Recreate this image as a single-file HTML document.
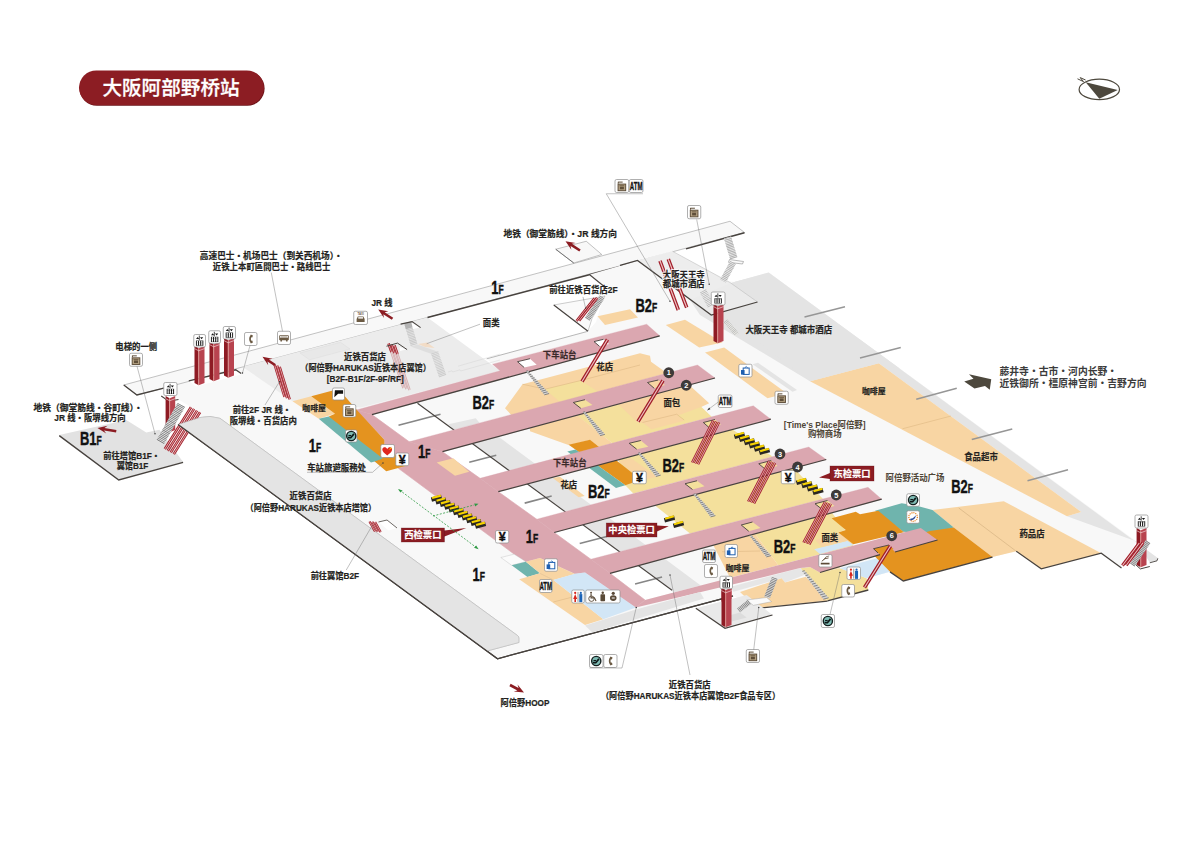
<!DOCTYPE html>
<html lang="zh"><head><meta charset="utf-8"><title>大阪阿部野桥站</title>
<style>html,body{margin:0;padding:0;background:#fff;font-family:"Liberation Sans",sans-serif;}svg{display:block}.lb{font-family:"Liberation Sans","Noto Sans CJK SC",sans-serif;font-weight:bold}</style></head>
<body><svg width="1200" height="848" viewBox="0 0 1200 848">
<rect x="79.6" y="71.2" width="185" height="34.5" rx="17.25" fill="#6a1217"/>
<rect x="79" y="70.5" width="185" height="34.5" rx="17.25" fill="#8c1d23"/>
<text x="102.40" y="95.20" font-family="Liberation Sans, Noto Sans CJK SC, sans-serif" font-weight="500" font-size="19.6" fill="#fff" stroke="#fff" stroke-width="0.27" textLength="137.2" lengthAdjust="spacingAndGlyphs">大阪阿部野桥站</text>
<ellipse cx="1099.3" cy="89.4" rx="20.2" ry="10.2" fill="#fff" stroke="#4d483d" stroke-width="1.2"/>
<polygon points="1085.70,82.30 1117.70,90.00 1099.30,98.70" fill="#4d483d" />
<path d="M1077.5 78.8 L1083.5 81.6 L1080.2 77.6 L1085.6 80" fill="none" stroke="#4d483d" stroke-width="1" />
<polygon points="163.75,388.10 242.50,366.75 500.00,371.00 720.00,560.00 805.00,576.25 497.50,658.75 178.10,424.40 200.00,417.50 201.00,413.00 178.50,399.50 171.00,394.50" fill="#f8f8f8" />
<polygon points="123.75,385.00 730.00,221.25 744.50,232.50 163.75,388.10 136.90,395.00" fill="#f8f8f8" stroke="#9a9a9a" stroke-width="0.6" stroke-linejoin="round" />
<polygon points="555.75,249.25 586.25,241.25 601.75,254.50 573.75,263.00" fill="#f8f8f8" stroke="#9a9a9a" stroke-width="0.6" stroke-linejoin="round" />
<polyline points="555.75,249.25 573.75,263.00" fill="none" stroke="#6a6a6a" stroke-width="0.9" />
<polygon points="242.50,366.75 427.50,317.50 500.00,370.80 361.00,407.50 292.50,401.25" fill="#ececec" />
<polygon points="300.00,353.00 340.50,342.30 350.00,349.00 309.50,359.80" fill="#e8e8e8" stroke="#d9d9d9" stroke-width="0.4" stroke-linejoin="round" />
<path d="M178.1 424.4 L200 417.5 Q210 415 220 418.3 L517.5 635.5 Q518.9 636.5 518.9 638 L518.9 642.5 L487.5 650.9 Z" fill="#e4e4e4" />
<path d="M178.1 424.4 L200 417.5 Q210 415 220 418.3 L517.5 635.5 Q518.9 636.5 518.9 638 L518.9 642.5 L487.5 650.9" fill="none" stroke="#b3b3b3" stroke-width="0.5" />
<polyline points="178.10,424.40 497.50,658.75 733.00,595.80" fill="none" stroke="#47423e" stroke-width="1.25" />
<polyline points="123.75,385.00 136.90,395.00 163.75,388.10" fill="none" stroke="#47423e" stroke-width="1.3" />
<polyline points="427.50,317.50 637.50,262.02" fill="none" stroke="#47423e" stroke-width="1.5" />
<polyline points="686.00,248.90 744.50,232.80" fill="none" stroke="#47423e" stroke-width="1.5" />
<polygon points="59.25,435.00 126.25,420.00 146.25,432.50 159.40,429.75 183.10,461.90 118.75,479.50" fill="#e2e2e2" />
<polyline points="59.25,435.60 118.75,480.00 183.10,462.30" fill="none" stroke="#47423e" stroke-width="1.4" />
<polygon points="590.00,274.50 637.50,260.80 671.70,250.80 720.00,280.80 735.00,281.70 768.75,272.50 1136.60,541.50 1121.50,567.90 1101.25,553.25 1041.25,568.75 1016.25,551.25 992.50,557.00 903.30,580.80 890.00,571.70 866.70,578.30 868.30,590.00 827.50,600.80 760.00,607.00 733.00,595.80 640.00,590.00 417.50,403.30 483.30,385.00 500.00,371.00 486.70,358.80 588.00,331.25 596.00,322.00 606.00,288.00" fill="#f8f8f8" />
<polygon points="768.75,272.50 1157.80,558.00 1157.00,560.50 1149.80,562.50 1136.60,541.50 1067.00,516.25 1081.25,512.00 878.75,363.25 810.00,381.25 700.00,315.00 690.00,300.00 732.50,282.50" fill="#e4e4e4" />
<polyline points="1157.80,558.30 1157.00,560.80 1149.80,562.80" fill="none" stroke="#47423e" stroke-width="0.9" />
<polygon points="810.00,381.25 878.75,363.25 1081.25,512.00 1067.00,516.25" fill="#f8d5a3" />
<polyline points="902.50,428.75 951.00,416.00" fill="none" stroke="#d9b27c" stroke-width="0.5" />
<polygon points="932.50,510.00 1003.75,501.25 1101.25,553.25 1041.25,568.75 1016.25,551.25 992.50,557.00 953.00,527.00" fill="#f8d5a3" />
<polyline points="958.75,508.00 1016.25,551.25" fill="none" stroke="#c9a676" stroke-width="0.5" />
<polyline points="1016.25,551.25 1041.25,568.75 1101.25,553.25 1121.50,567.90" fill="none" stroke="#47423e" stroke-width="1.2" />
<polygon points="371.90,414.60 416.32,402.44 453.67,429.87 409.20,441.70" fill="#ffffff" />
<polygon points="448.30,424.20 475.80,418.30 479.67,422.95 453.67,429.87" fill="#e4e4e4" />
<polyline points="398.50,425.30 440.50,414.30" fill="none" stroke="#868686" stroke-width="1.6" />
<polygon points="442.50,451.70 472.38,443.62 509.09,470.58 480.00,478.30" fill="#ffffff" />
<polygon points="472.38,443.62 498.38,436.59 535.09,463.69 509.09,470.58" fill="#e4e4e4" />
<polyline points="469.24,462.35 496.24,455.28" fill="none" stroke="#868686" stroke-width="1.6" />
<polygon points="498.30,491.70 527.33,483.98 565.04,511.68 536.70,519.20" fill="#ffffff" />
<polygon points="527.33,483.98 553.33,477.06 591.04,504.78 565.04,511.68" fill="#e4e4e4" />
<polyline points="524.68,503.13 551.68,496.06" fill="none" stroke="#868686" stroke-width="1.6" />
<polygon points="554.20,532.50 582.90,524.80 619.57,551.74 590.80,559.20" fill="#ffffff" />
<polygon points="582.90,524.80 608.90,517.82 645.57,544.99 619.57,551.74" fill="#e4e4e4" />
<polyline points="579.73,543.51 606.73,536.43" fill="none" stroke="#868686" stroke-width="1.6" />
<polygon points="610.00,573.30 638.39,565.56 674.71,592.24 645.00,600.00" fill="#ffffff" />
<polygon points="638.39,565.56 664.39,558.47 700.71,585.46 674.71,592.24" fill="#e4e4e4" />
<polyline points="635.05,584.10 662.05,577.03" fill="none" stroke="#868686" stroke-width="1.6" />
<polyline points="417.50,403.30 672.00,590.25" fill="none" stroke="#47423e" stroke-width="1.1" />
<polygon points="505.00,408.30 522.50,384.20 640.00,353.30 650.00,355.80 651.00,361.70 664.00,371.00 664.00,373.91 511.70,415.43" fill="#f8d5a3" />
<polygon points="545.00,389.20 580.80,380.50 600.00,393.00 560.00,402.00" fill="#f4e09c" />
<polyline points="522.50,384.20 545.00,389.20 580.80,380.50 640.00,365.00" fill="none" stroke="#d8b37e" stroke-width="0.5" />
<polygon points="576.70,415.40 689.20,384.98 701.70,407.20 711.70,416.84 612.50,443.15" fill="#f4e09c" />
<polygon points="530.00,428.17 576.67,415.00 612.50,443.17 599.17,446.83 590.00,440.00 569.17,445.33 530.00,431.17" fill="#f8d5a3" />
<polygon points="618.30,404.15 689.20,384.98 709.20,403.30 701.70,406.70 678.00,415.50 684.20,420.80 651.70,429.20 643.30,423.30 636.70,421.70" fill="#f8d5a3" />
<polyline points="642.50,422.50 676.70,414.20 684.20,420.00" fill="none" stroke="#d8b37e" stroke-width="0.5" />
<polygon points="618.70,459.67 732.50,429.39 772.50,456.62 633.30,493.56 625.30,485.30" fill="#f4e09c" />
<polygon points="618.70,461.30 630.70,458.00 657.30,476.70 646.70,479.30 633.00,473.50" fill="#f8d5a3" />
<polygon points="568.70,444.70 590.00,439.70 633.00,473.50 632.50,482.70 625.30,485.30" fill="#e4931f" />
<polygon points="567.30,451.50 575.50,449.60 625.30,485.30 616.00,488.00" fill="#6fb4ad" />
<polygon points="552.70,478.00 560.00,476.70 584.70,496.00 578.70,497.30" fill="#f8d5a3" />
<polygon points="655.00,505.45 794.00,468.15 823.00,498.97 690.00,533.47" fill="#f4e09c" />
<polygon points="755.00,533.75 832.00,512.75 845.00,530.00 838.00,532.50 853.00,544.00 853.00,545.70 778.30,565.20" fill="#f4e09c" />
<polygon points="713.30,545.13 755.00,533.75 778.30,565.20 730.00,577.81" fill="#f8d5a3" />
<polyline points="722.00,551.75 760.00,551.00" fill="none" stroke="#d8b37e" stroke-width="0.5" />
<polygon points="730.80,586.70 805.00,566.70 808.70,573.30 785.00,582.50 781.70,578.30 733.30,591.70" fill="#e6e6e6" />
<polygon points="740.00,592.00 781.70,578.30 785.00,582.50 805.80,576.70 827.50,600.80 757.00,608.00" fill="#f8d5a3" />
<polyline points="757.00,608.30 827.50,601.10" fill="none" stroke="#47423e" stroke-width="1.2" />
<polygon points="800.80,568.30 810.00,567.00 820.00,572.50 840.00,568.30 866.70,578.30 868.30,590.00 827.50,600.80" fill="#f4e09c" />
<polygon points="810.00,566.50 832.50,560.80 840.00,568.00 820.00,572.50" fill="#f8d5a3" />
<polygon points="814.20,549.20 847.50,540.80 853.30,545.00 820.00,554.00" fill="#d2e6f6" />
<polygon points="840.00,568.30 876.70,558.30 890.00,571.70 866.70,578.30" fill="#d2e6f6" />
<polygon points="815.00,540.00 845.80,530.00 838.30,532.50 853.30,544.20 847.50,540.80 822.00,547.00" fill="#f8d5a3" />
<polygon points="875.00,510.80 901.70,503.30 916.70,505.80 932.50,510.00 953.75,527.50 930.80,533.70 903.30,531.70" fill="#6fb4ad" />
<polygon points="831.70,518.30 855.80,511.70 860.00,514.20 878.30,510.80 903.30,531.70 905.00,532.12 853.30,544.20 838.30,532.50 845.80,530.00" fill="#e4931f" />
<polygon points="868.00,548.00 930.00,531.00 953.75,527.50 992.50,557.00 903.30,580.80 890.00,571.70 876.70,558.30" fill="#e4931f" />
<polyline points="827.50,600.80 868.30,590.00" fill="none" stroke="#47423e" stroke-width="1.3" />
<polyline points="890.00,571.90 903.30,581.00 992.50,557.20" fill="none" stroke="#47423e" stroke-width="1.3" />
<polygon points="356.25,410.00 371.90,414.60 409.20,441.70 442.50,451.70 480.00,478.30 498.30,491.70 536.70,519.20 554.20,532.50 590.80,559.20 610.00,573.30 645.00,600.00 645.00,600.00 635.80,607.50 585.00,572.50 575.00,573.70 540.00,558.00 525.80,561.70 514.20,554.20 398.30,468.30 407.50,465.50 385.00,445.80 384.20,439.20" fill="#dba7b0" stroke="#dba7b0" stroke-width="0.6" stroke-linejoin="round" />
<polygon points="356.25,410.00 500.00,370.80 492.50,364.20 646.70,324.20 659.70,335.80 371.90,414.60" fill="#dba7b0" stroke="#dba7b0" stroke-width="0.3" stroke-linejoin="round" />
<polygon points="409.20,441.70 697.50,365.00 715.00,378.00 442.50,451.70" fill="#dba7b0" stroke="#dba7b0" stroke-width="0.3" stroke-linejoin="round" />
<polygon points="480.00,478.30 753.30,405.80 770.80,419.20 498.30,491.70" fill="#dba7b0" stroke="#dba7b0" stroke-width="0.3" stroke-linejoin="round" />
<polygon points="536.70,519.20 808.75,447.00 826.25,459.50 554.20,532.50" fill="#dba7b0" stroke="#dba7b0" stroke-width="0.3" stroke-linejoin="round" />
<polygon points="590.80,559.20 868.00,487.30 881.70,499.20 610.00,573.30" fill="#dba7b0" stroke="#dba7b0" stroke-width="0.3" stroke-linejoin="round" />
<polygon points="645.00,600.00 920.80,528.00 937.50,540.00 895.00,552.00 891.20,548.00 874.20,548.70 880.00,554.70 820.00,572.50 810.00,567.00 800.00,568.00 770.00,575.50 635.80,607.50" fill="#dba7b0" />
<polyline points="659.70,335.80 371.90,414.60" fill="none" stroke="#47423e" stroke-width="1.3" />
<polyline points="715.00,378.00 442.50,451.70" fill="none" stroke="#47423e" stroke-width="1.2" />
<polyline points="770.80,419.20 498.30,491.70" fill="none" stroke="#47423e" stroke-width="1.2" />
<polyline points="826.25,459.50 554.20,532.50" fill="none" stroke="#47423e" stroke-width="1.2" />
<polyline points="881.70,499.20 610.00,573.30" fill="none" stroke="#47423e" stroke-width="1.2" />
<polyline points="937.50,540.00 895.00,552.00" fill="none" stroke="#47423e" stroke-width="1.2" />
<polyline points="880.00,554.70 820.00,572.50" fill="none" stroke="#47423e" stroke-width="1.2" />
<polygon points="292.50,401.25 311.25,396.25 335.00,413.75 318.75,418.75" fill="#f8d5a3" />
<polygon points="311.25,396.25 336.50,389.50 345.00,396.50 356.40,409.60 384.30,439.80 384.50,445.50 407.50,465.50 386.25,471.25 374.70,461.60 328.75,416.50 335.00,413.75" fill="#e4931f" />
<polygon points="318.75,418.75 328.75,416.50 382.80,458.50 374.70,461.60 371.00,462.60" fill="#6fb4ad" />
<polygon points="436.70,462.50 453.30,458.30 469.20,471.70 455.00,475.80" fill="#f8d5a3" />
<polygon points="735.00,281.70 768.30,273.30 900.00,368.75 878.75,363.25 810.00,381.25 723.30,315.80 700.00,298.00" fill="#e4e4e4" />
<polygon points="637.50,260.40 672.50,251.25 730.00,282.50 757.50,302.00 711.25,315.00" fill="#ebebeb" fill-opacity="0.9"/>
<polyline points="672.50,251.25 730.00,282.50 757.50,302.00" fill="none" stroke="#b4b4b4" stroke-width="0.5" />
<polyline points="620.00,265.30 637.50,260.40 711.25,315.00 757.50,302.00" fill="none" stroke="#47423e" stroke-width="1.2" />
<polyline points="804.50,317.00 845.00,306.75" fill="none" stroke="#969696" stroke-width="1.4" />
<polyline points="860.00,358.00 900.75,347.50" fill="none" stroke="#969696" stroke-width="1.4" />
<polyline points="916.25,399.25 956.75,388.25" fill="none" stroke="#969696" stroke-width="1.4" />
<polyline points="971.75,439.50 1012.25,429.00" fill="none" stroke="#969696" stroke-width="1.4" />
<polyline points="1027.50,480.75 1068.00,469.75" fill="none" stroke="#969696" stroke-width="1.4" />
<polygon points="665.80,325.00 685.00,319.70 722.50,342.50 699.20,347.50" fill="#f8d5a3" />
<polygon points="705.00,352.50 724.20,347.50 786.70,393.30 767.50,398.30" fill="#f8d5a3" />
<polygon points="752.50,364.20 758.00,362.80 797.00,390.00 792.50,391.70" fill="#e4e4e4" />
<polygon points="597.50,316.25 630.00,309.25 638.00,317.50 605.00,325.00" fill="#f8d5a3" />
<polygon points="553.75,305.00 605.00,296.00 592.00,318.50 588.00,331.25" fill="#fafafa" stroke="#9a9a9a" stroke-width="0.5" stroke-linejoin="round" />
<polyline points="553.75,305.00 588.00,331.25" fill="none" stroke="#47423e" stroke-width="1.1" />
<polyline points="588.00,331.25 486.70,358.80" fill="none" stroke="#9a9a9a" stroke-width="0.7" />
<polyline points="590.00,275.00 606.00,288.00" fill="none" stroke="#47423e" stroke-width="1.1" />
<polygon points="517.50,361.70 530.00,358.70 536.70,364.70 524.20,367.50" fill="#ffffff" />
<polyline points="517.50,361.70 530.00,358.70" fill="none" stroke="#47423e" stroke-width="0.9" />
<polyline points="517.50,361.70 524.20,367.50" fill="none" stroke="#47423e" stroke-width="0.9" />
<polygon points="573.30,402.50 585.00,399.70 592.50,405.00 580.80,408.30" fill="#f4e09c" />
<polyline points="573.30,402.50 585.00,399.70" fill="none" stroke="#47423e" stroke-width="0.9" />
<polyline points="573.30,402.50 580.80,408.30" fill="none" stroke="#47423e" stroke-width="0.9" />
<polygon points="629.20,443.30 640.80,440.50 648.30,446.70 636.70,449.20" fill="#f4e09c" />
<polyline points="629.20,443.30 640.80,440.50" fill="none" stroke="#47423e" stroke-width="0.9" />
<polyline points="629.20,443.30 636.70,449.20" fill="none" stroke="#47423e" stroke-width="0.9" />
<polygon points="685.00,483.75 697.00,480.75 704.50,486.25 692.50,489.50" fill="#f4e09c" />
<polyline points="685.00,483.75 697.00,480.75" fill="none" stroke="#47423e" stroke-width="0.9" />
<polyline points="685.00,483.75 692.50,489.50" fill="none" stroke="#47423e" stroke-width="0.9" />
<polygon points="741.25,525.00 752.50,522.00 760.50,528.00 748.75,531.25" fill="#f4e09c" />
<polyline points="741.25,525.00 752.50,522.00" fill="none" stroke="#47423e" stroke-width="0.9" />
<polyline points="741.25,525.00 748.75,531.25" fill="none" stroke="#47423e" stroke-width="0.9" />
<polygon points="594.00,341.60 603.50,339.30 609.00,344.00 599.50,346.30" fill="#ffffff" />
<polyline points="594.00,341.60 603.50,339.30" fill="none" stroke="#47423e" stroke-width="0.9" />
<polyline points="594.00,341.60 599.50,346.30" fill="none" stroke="#47423e" stroke-width="0.9" />
<polygon points="647.50,382.50 658.30,380.00 665.00,385.00 654.20,388.30" fill="#f8d5a3" />
<polyline points="647.50,382.50 658.30,380.00" fill="none" stroke="#47423e" stroke-width="0.9" />
<polyline points="647.50,382.50 654.20,388.30" fill="none" stroke="#47423e" stroke-width="0.9" />
<polygon points="703.30,422.50 715.00,419.50 721.00,424.50 709.00,427.50" fill="#f4e09c" />
<polyline points="703.30,422.50 715.00,419.50" fill="none" stroke="#47423e" stroke-width="0.9" />
<polyline points="703.30,422.50 709.00,427.50" fill="none" stroke="#47423e" stroke-width="0.9" />
<polygon points="758.75,463.75 771.25,460.50 777.50,466.00 765.00,469.00" fill="#f4e09c" />
<polyline points="758.75,463.75 771.25,460.50" fill="none" stroke="#47423e" stroke-width="0.9" />
<polyline points="758.75,463.75 765.00,469.00" fill="none" stroke="#47423e" stroke-width="0.9" />
<polygon points="815.00,503.75 827.50,500.50 834.50,506.00 822.00,509.30" fill="#f4e09c" />
<polyline points="815.00,503.75 827.50,500.50" fill="none" stroke="#47423e" stroke-width="0.9" />
<polyline points="815.00,503.75 822.00,509.30" fill="none" stroke="#47423e" stroke-width="0.9" />
<polygon points="873.50,548.70 889.00,545.00 893.50,549.00 878.00,553.00" fill="#e4931f" />
<polyline points="873.50,548.70 889.00,545.00" fill="none" stroke="#47423e" stroke-width="0.9" />
<polyline points="873.50,548.70 878.00,553.00" fill="none" stroke="#47423e" stroke-width="0.9" />
<polygon points="802.29,571.32 804.71,570.68 828.66,597.79 823.34,599.21" fill="#d4d4d4" />
<path d="M802.29 571.32 L804.71 570.68 M803.91 573.47 L806.55 572.76 M805.53 575.61 L808.39 574.85 M807.15 577.76 L810.23 576.93 M808.77 579.90 L812.08 579.02 M810.39 582.05 L813.92 581.10 M812.01 584.20 L815.76 583.19 M813.63 586.34 L817.60 585.27 M815.25 588.49 L819.45 587.36 M816.87 590.63 L821.29 589.45 M818.49 592.78 L823.13 591.53 M820.10 594.92 L824.97 593.62 M821.72 597.07 L826.81 595.70 M823.34 599.21 L828.66 597.79" fill="none" stroke="#6f6f6f" stroke-width="0.8" />
<polygon points="525.94,371.28 528.06,370.72 549.12,393.55 544.29,394.85" fill="#d4d4d4" />
<path d="M525.94 371.28 L528.06 370.72 M527.35 373.10 L529.68 372.47 M528.76 374.91 L531.30 374.23 M530.17 376.72 L532.92 375.99 M531.58 378.53 L534.54 377.74 M532.99 380.35 L536.16 379.50 M534.41 382.16 L537.78 381.26 M535.82 383.97 L539.40 383.01 M537.23 385.78 L541.02 384.77 M538.64 387.60 L542.64 386.53 M540.05 389.41 L544.26 388.28 M541.46 391.22 L545.88 390.04 M542.87 393.03 L547.50 391.80 M544.29 394.85 L549.12 393.55" fill="none" stroke="#6f6f6f" stroke-width="0.8" />
<polygon points="582.94,412.28 585.06,411.72 604.91,434.35 600.09,435.65" fill="#d4d4d4" />
<path d="M582.94 412.28 L585.06 411.72 M584.26 414.08 L586.59 413.46 M585.58 415.88 L588.12 415.20 M586.89 417.68 L589.64 416.94 M588.21 419.47 L591.17 418.68 M589.53 421.27 L592.70 420.42 M590.85 423.07 L594.23 422.16 M592.17 424.86 L595.75 423.90 M593.49 426.66 L597.28 425.65 M594.81 428.46 L598.81 427.39 M596.13 430.26 L600.33 429.13 M597.45 432.05 L601.86 430.87 M598.77 433.85 L603.39 432.61 M600.09 435.65 L604.91 434.35" fill="none" stroke="#6f6f6f" stroke-width="0.8" />
<polygon points="637.94,453.28 640.06,452.72 660.71,475.15 655.88,476.45" fill="#d4d4d4" />
<path d="M637.94 453.28 L640.06 452.72 M639.32 455.07 L641.65 454.44 M640.70 456.85 L643.24 456.17 M642.08 458.63 L644.83 457.89 M643.46 460.41 L646.42 459.62 M644.84 462.19 L648.01 461.34 M646.22 463.98 L649.59 463.07 M647.60 465.76 L651.18 464.80 M648.98 467.54 L652.77 466.52 M650.36 469.32 L654.36 468.25 M651.74 471.10 L655.95 469.97 M653.12 472.88 L657.54 471.70 M654.50 474.67 L659.13 473.43 M655.88 476.45 L660.71 475.15" fill="none" stroke="#6f6f6f" stroke-width="0.8" />
<polygon points="693.44,494.28 695.56,493.72 715.41,515.60 710.59,516.90" fill="#d4d4d4" />
<path d="M693.44 494.28 L695.56 493.72 M694.76 496.02 L697.09 495.40 M696.08 497.76 L698.62 497.08 M697.39 499.50 L700.14 498.77 M698.71 501.24 L701.67 500.45 M700.03 502.98 L703.20 502.13 M701.35 504.72 L704.73 503.82 M702.67 506.46 L706.25 505.50 M703.99 508.20 L707.78 507.18 M705.31 509.94 L709.31 508.87 M706.63 511.68 L710.83 510.55 M707.95 513.42 L712.36 512.24 M709.27 515.16 L713.89 513.92 M710.59 516.90 L715.41 515.60" fill="none" stroke="#6f6f6f" stroke-width="0.8" />
<polygon points="749.44,535.78 751.56,535.22 771.16,555.60 766.34,556.90" fill="#d4d4d4" />
<path d="M749.44 535.78 L751.56 535.22 M750.74 537.41 L753.07 536.78 M752.04 539.03 L754.58 538.35 M753.34 540.66 L756.09 539.92 M754.64 542.28 L757.59 541.49 M755.94 543.91 L759.10 543.06 M757.24 545.53 L760.61 544.62 M758.54 547.15 L762.12 546.19 M759.84 548.78 L763.63 547.76 M761.14 550.40 L765.13 549.33 M762.44 552.03 L766.64 550.90 M763.74 553.65 L768.15 552.47 M765.04 555.27 L769.66 554.03 M766.34 556.90 L771.16 555.60" fill="none" stroke="#6f6f6f" stroke-width="0.8" />
<polyline points="607.50,339.50 582.00,381.50" fill="none" stroke="#a11d29" stroke-width="3.6" stroke-linecap="butt"/>
<polyline points="607.50,339.50 582.00,381.50" fill="none" stroke="#eec3c3" stroke-width="1.1520000000000001" />
<polyline points="663.00,380.50 638.00,421.50" fill="none" stroke="#a11d29" stroke-width="3.6" stroke-linecap="butt"/>
<polyline points="663.00,380.50 638.00,421.50" fill="none" stroke="#eec3c3" stroke-width="1.1520000000000001" />
<polyline points="713.20,420.50 692.20,462.50" fill="none" stroke="#a11d29" stroke-width="2.5" stroke-linecap="butt"/>
<polyline points="713.20,420.50 692.20,462.50" fill="none" stroke="#eec3c3" stroke-width="0.8" />
<polyline points="716.10,421.40 695.10,463.40" fill="none" stroke="#a11d29" stroke-width="2.5" stroke-linecap="butt"/>
<polyline points="716.10,421.40 695.10,463.40" fill="none" stroke="#eec3c3" stroke-width="0.8" />
<polyline points="719.00,422.30 698.00,464.30" fill="none" stroke="#a11d29" stroke-width="2.5" stroke-linecap="butt"/>
<polyline points="719.00,422.30 698.00,464.30" fill="none" stroke="#eec3c3" stroke-width="0.8" />
<polyline points="769.20,461.00 748.20,501.50" fill="none" stroke="#a11d29" stroke-width="2.5" stroke-linecap="butt"/>
<polyline points="769.20,461.00 748.20,501.50" fill="none" stroke="#eec3c3" stroke-width="0.8" />
<polyline points="772.10,461.90 751.10,502.40" fill="none" stroke="#a11d29" stroke-width="2.5" stroke-linecap="butt"/>
<polyline points="772.10,461.90 751.10,502.40" fill="none" stroke="#eec3c3" stroke-width="0.8" />
<polyline points="775.00,462.80 754.00,503.30" fill="none" stroke="#a11d29" stroke-width="2.5" stroke-linecap="butt"/>
<polyline points="775.00,462.80 754.00,503.30" fill="none" stroke="#eec3c3" stroke-width="0.8" />
<polyline points="825.00,502.00 803.50,542.50" fill="none" stroke="#a11d29" stroke-width="2.5" stroke-linecap="butt"/>
<polyline points="825.00,502.00 803.50,542.50" fill="none" stroke="#eec3c3" stroke-width="0.8" />
<polyline points="827.90,502.90 806.40,543.40" fill="none" stroke="#a11d29" stroke-width="2.5" stroke-linecap="butt"/>
<polyline points="827.90,502.90 806.40,543.40" fill="none" stroke="#eec3c3" stroke-width="0.8" />
<polyline points="830.80,503.80 809.30,544.30" fill="none" stroke="#a11d29" stroke-width="2.5" stroke-linecap="butt"/>
<polyline points="830.80,503.80 809.30,544.30" fill="none" stroke="#eec3c3" stroke-width="0.8" />
<polyline points="890.50,546.00 864.50,587.50" fill="none" stroke="#a11d29" stroke-width="3.6" stroke-linecap="butt"/>
<polyline points="890.50,546.00 864.50,587.50" fill="none" stroke="#eec3c3" stroke-width="1.1520000000000001" />
<polyline points="660.00,260.80 678.30,310.00" fill="none" stroke="#a11d29" stroke-width="3.6" stroke-linecap="butt"/>
<polyline points="660.00,260.80 678.30,310.00" fill="none" stroke="#eec3c3" stroke-width="1.1520000000000001" />
<polyline points="668.30,259.20 686.70,307.50" fill="none" stroke="#a11d29" stroke-width="3.6" stroke-linecap="butt"/>
<polyline points="668.30,259.20 686.70,307.50" fill="none" stroke="#eec3c3" stroke-width="1.1520000000000001" />
<polyline points="602.00,297.00 587.20,319.50" fill="none" stroke="#dcdcdc" stroke-width="5.6" />
<polyline points="602.00,297.00 587.20,319.50" fill="none" stroke="#7c7c7c" stroke-width="5.6" stroke-dasharray="0.7 0.9"/>
<polyline points="594.50,298.30 576.50,321.00" fill="none" stroke="#a11d29" stroke-width="2.6" stroke-linecap="butt"/>
<polyline points="594.50,298.30 576.50,321.00" fill="none" stroke="#eec3c3" stroke-width="0.8320000000000001" />
<polyline points="597.10,297.90 579.10,320.60" fill="none" stroke="#a11d29" stroke-width="2.6" stroke-linecap="butt"/>
<polyline points="597.10,297.90 579.10,320.60" fill="none" stroke="#eec3c3" stroke-width="0.8320000000000001" />
<polyline points="274.50,364.50 284.50,397.00" fill="none" stroke="#a11d29" stroke-width="2.4" stroke-linecap="butt"/>
<polyline points="274.50,364.50 284.50,397.00" fill="none" stroke="#eec3c3" stroke-width="0.768" />
<polyline points="277.10,365.70 287.10,398.20" fill="none" stroke="#a11d29" stroke-width="2.4" stroke-linecap="butt"/>
<polyline points="277.10,365.70 287.10,398.20" fill="none" stroke="#eec3c3" stroke-width="0.768" />
<polyline points="279.70,366.90 289.70,399.40" fill="none" stroke="#a11d29" stroke-width="2.4" stroke-linecap="butt"/>
<polyline points="279.70,366.90 289.70,399.40" fill="none" stroke="#eec3c3" stroke-width="0.768" />
<g opacity="0.3">
<polyline points="388.50,343.50 403.50,388.00" fill="none" stroke="#a11d29" stroke-width="2.4" stroke-linecap="butt"/>
<polyline points="388.50,343.50 403.50,388.00" fill="none" stroke="#eec3c3" stroke-width="0.768" />
<polyline points="391.50,344.50 406.50,389.00" fill="none" stroke="#a11d29" stroke-width="2.4" stroke-linecap="butt"/>
<polyline points="391.50,344.50 406.50,389.00" fill="none" stroke="#eec3c3" stroke-width="0.768" />
<polyline points="394.50,345.50 409.50,390.00" fill="none" stroke="#a11d29" stroke-width="2.4" stroke-linecap="butt"/>
<polyline points="394.50,345.50 409.50,390.00" fill="none" stroke="#eec3c3" stroke-width="0.768" />
</g>
<polyline points="388.50,343.50 391.50,352.00" fill="none" stroke="#a11d29" stroke-width="2.4" stroke-linecap="butt"/>
<polyline points="388.50,343.50 391.50,352.00" fill="none" stroke="#eec3c3" stroke-width="0.768" />
<polyline points="391.50,344.50 394.50,353.00" fill="none" stroke="#a11d29" stroke-width="2.4" stroke-linecap="butt"/>
<polyline points="391.50,344.50 394.50,353.00" fill="none" stroke="#eec3c3" stroke-width="0.768" />
<polyline points="394.50,345.50 397.50,354.00" fill="none" stroke="#a11d29" stroke-width="2.4" stroke-linecap="butt"/>
<polyline points="394.50,345.50 397.50,354.00" fill="none" stroke="#eec3c3" stroke-width="0.768" />
<polyline points="191.00,407.20 164.80,449.00" fill="none" stroke="#a11d29" stroke-width="2.6" stroke-linecap="butt"/>
<polyline points="191.00,407.20 164.80,449.00" fill="none" stroke="#eec3c3" stroke-width="0.8320000000000001" />
<polyline points="194.00,408.90 167.80,450.70" fill="none" stroke="#a11d29" stroke-width="2.6" stroke-linecap="butt"/>
<polyline points="194.00,408.90 167.80,450.70" fill="none" stroke="#eec3c3" stroke-width="0.8320000000000001" />
<polyline points="197.00,410.60 170.80,452.40" fill="none" stroke="#a11d29" stroke-width="2.6" stroke-linecap="butt"/>
<polyline points="197.00,410.60 170.80,452.40" fill="none" stroke="#eec3c3" stroke-width="0.8320000000000001" />
<polyline points="200.00,412.30 173.80,454.10" fill="none" stroke="#a11d29" stroke-width="2.6" stroke-linecap="butt"/>
<polyline points="200.00,412.30 173.80,454.10" fill="none" stroke="#eec3c3" stroke-width="0.8320000000000001" />
<path d="M178.1 424.4 L200 417.5 Q210 415 220 418.3 L517.5 635.5 Q518.9 636.5 518.9 638 L518.9 642.5 L487.5 650.9 Z" fill="#e4e4e4" />
<path d="M178.1 424.4 L200 417.5 Q210 415 220 418.3 L517.5 635.5 Q518.9 636.5 518.9 638 L518.9 642.5 L487.5 650.9" fill="none" stroke="#b3b3b3" stroke-width="0.5" />
<polyline points="178.10,424.40 497.50,658.75 733.00,595.80" fill="none" stroke="#47423e" stroke-width="1.25" />
<polyline points="369.50,521.50 375.00,531.50" fill="none" stroke="#a11d29" stroke-width="2.2" stroke-linecap="butt"/>
<polyline points="369.50,521.50 375.00,531.50" fill="none" stroke="#eec3c3" stroke-width="0.7040000000000001" />
<polyline points="372.30,521.80 377.80,531.80" fill="none" stroke="#a11d29" stroke-width="2.2" stroke-linecap="butt"/>
<polyline points="372.30,521.80 377.80,531.80" fill="none" stroke="#eec3c3" stroke-width="0.7040000000000001" />
<polyline points="375.10,522.10 380.60,532.10" fill="none" stroke="#a11d29" stroke-width="2.2" stroke-linecap="butt"/>
<polyline points="375.10,522.10 380.60,532.10" fill="none" stroke="#eec3c3" stroke-width="0.7040000000000001" />
<polygon points="378.50,522.00 387.00,520.00 397.00,528.00 388.50,530.50" fill="#ffffff" />
<polyline points="378.50,522.00 387.00,520.00 397.00,528.00" fill="none" stroke="#47423e" stroke-width="0.8" />
<polygon points="188.80,380.90 196.00,386.50 241.20,374.50 235.70,369.80" fill="#ffffff" />
<polyline points="188.80,380.90 235.70,369.80 241.20,373.50" fill="none" stroke="#47423e" stroke-width="1.3" />
<polygon points="194.50,346.00 198.70,348.20 198.70,385.20 194.50,383.00" fill="#8e1b24" />
<polygon points="198.70,348.20 204.50,346.00 204.50,383.00 198.70,385.20" fill="#b8434f" />
<polyline points="198.70,348.20 198.70,385.20" fill="none" stroke="#eeb4aa" stroke-width="0.7" />
<polyline points="194.50,348.60 198.70,350.80 204.50,348.60" fill="none" stroke="#fbeaea" stroke-width="0.6" />
<polygon points="209.50,342.00 213.70,344.20 213.70,381.20 209.50,379.00" fill="#8e1b24" />
<polygon points="213.70,344.20 219.50,342.00 219.50,379.00 213.70,381.20" fill="#b8434f" />
<polyline points="213.70,344.20 213.70,381.20" fill="none" stroke="#eeb4aa" stroke-width="0.7" />
<polyline points="209.50,344.60 213.70,346.80 219.50,344.60" fill="none" stroke="#fbeaea" stroke-width="0.6" />
<polygon points="224.00,338.00 228.20,340.20 228.20,377.70 224.00,375.50" fill="#8e1b24" />
<polygon points="228.20,340.20 234.00,338.00 234.00,375.50 228.20,377.70" fill="#b8434f" />
<polyline points="228.20,340.20 228.20,377.70" fill="none" stroke="#eeb4aa" stroke-width="0.7" />
<polyline points="224.00,340.60 228.20,342.80 234.00,340.60" fill="none" stroke="#fbeaea" stroke-width="0.6" />
<polygon points="161.25,396.00 168.75,401.25 178.50,399.50 171.00,394.50" fill="#ffffff" />
<polyline points="161.25,396.00 168.75,401.25 178.50,399.50" fill="none" stroke="#47423e" stroke-width="1.1" />
<polygon points="165.60,396.00 169.63,398.20 169.63,432.20 165.60,430.00" fill="#8e1b24" />
<polygon points="169.63,398.20 175.20,396.00 175.20,430.00 169.63,432.20" fill="#b8434f" />
<polyline points="169.63,398.20 169.63,432.20" fill="none" stroke="#eeb4aa" stroke-width="0.7" />
<polyline points="165.60,398.60 169.63,400.80 175.20,398.60" fill="none" stroke="#fbeaea" stroke-width="0.6" />
<polyline points="181.25,405.00 160.00,442.50" fill="none" stroke="#e9e9e9" stroke-width="8.5" />
<polyline points="181.25,405.00 160.00,442.50" fill="none" stroke="#6e6e6e" stroke-width="8.5" stroke-dasharray="0.7 0.9"/>
<polygon points="713.50,304.00 717.70,306.20 717.70,343.20 713.50,341.00" fill="#8e1b24" />
<polygon points="717.70,306.20 723.50,304.00 723.50,341.00 717.70,343.20" fill="#b8434f" />
<polyline points="717.70,306.20 717.70,343.20" fill="none" stroke="#eeb4aa" stroke-width="0.7" />
<polyline points="713.50,306.60 717.70,308.80 723.50,306.60" fill="none" stroke="#fbeaea" stroke-width="0.6" />
<polygon points="721.50,588.00 725.70,590.20 725.70,627.20 721.50,625.00" fill="#8e1b24" />
<polygon points="725.70,590.20 731.50,588.00 731.50,625.00 725.70,627.20" fill="#b8434f" />
<polyline points="725.70,590.20 725.70,627.20" fill="none" stroke="#eeb4aa" stroke-width="0.7" />
<polyline points="721.50,590.60 725.70,592.80 731.50,590.60" fill="none" stroke="#fbeaea" stroke-width="0.6" />
<polygon points="1135.20,564.20 1140.40,568.90 1149.80,566.50 1146.00,563.20" fill="#ffffff" />
<polyline points="1135.20,564.20 1140.40,568.90 1149.80,566.50" fill="none" stroke="#47423e" stroke-width="1.0" />
<polygon points="1136.60,528.00 1140.76,530.20 1140.76,567.20 1136.60,565.00" fill="#8e1b24" />
<polygon points="1140.76,530.20 1146.50,528.00 1146.50,565.00 1140.76,567.20" fill="#b8434f" />
<polyline points="1140.76,530.20 1140.76,567.20" fill="none" stroke="#eeb4aa" stroke-width="0.7" />
<polyline points="1136.60,530.60 1140.76,532.80 1146.50,530.60" fill="none" stroke="#fbeaea" stroke-width="0.6" />
<polyline points="1148.00,541.80 1132.30,565.00" fill="none" stroke="#d5d5d5" stroke-width="5.5" />
<polyline points="1148.00,541.80 1132.30,565.00" fill="none" stroke="#7a7a7a" stroke-width="5.5" stroke-dasharray="0.7 0.9"/>
<polyline points="1139.30,543.00 1122.50,565.50" fill="none" stroke="#a11d29" stroke-width="3.2" stroke-linecap="butt"/>
<polyline points="1139.30,543.00 1122.50,565.50" fill="none" stroke="#eec3c3" stroke-width="1.024" />
<polyline points="1143.00,542.70 1126.20,565.20" fill="none" stroke="#a11d29" stroke-width="3.2" stroke-linecap="butt"/>
<polyline points="1143.00,542.70 1126.20,565.20" fill="none" stroke="#eec3c3" stroke-width="1.024" />
<polyline points="431.43,499.56 441.57,496.84" fill="none" stroke="#2a2723" stroke-width="4.4" />
<polyline points="432.10,497.98 440.90,495.62" fill="none" stroke="#f7d300" stroke-width="2.1" />
<polyline points="435.83,502.26 445.97,499.54" fill="none" stroke="#2a2723" stroke-width="4.4" />
<polyline points="436.50,500.68 445.30,498.32" fill="none" stroke="#f7d300" stroke-width="2.1" />
<polyline points="440.23,504.96 450.37,502.24" fill="none" stroke="#2a2723" stroke-width="4.4" />
<polyline points="440.90,503.38 449.70,501.02" fill="none" stroke="#f7d300" stroke-width="2.1" />
<polyline points="444.63,507.66 454.77,504.94" fill="none" stroke="#2a2723" stroke-width="4.4" />
<polyline points="445.30,506.08 454.10,503.72" fill="none" stroke="#f7d300" stroke-width="2.1" />
<polyline points="449.03,510.36 459.17,507.64" fill="none" stroke="#2a2723" stroke-width="4.4" />
<polyline points="449.70,508.78 458.50,506.42" fill="none" stroke="#f7d300" stroke-width="2.1" />
<polyline points="453.43,513.06 463.57,510.34" fill="none" stroke="#2a2723" stroke-width="4.4" />
<polyline points="454.10,511.48 462.90,509.12" fill="none" stroke="#f7d300" stroke-width="2.1" />
<polyline points="457.83,515.76 467.97,513.04" fill="none" stroke="#2a2723" stroke-width="4.4" />
<polyline points="458.50,514.18 467.30,511.82" fill="none" stroke="#f7d300" stroke-width="2.1" />
<polyline points="462.23,518.46 472.37,515.74" fill="none" stroke="#2a2723" stroke-width="4.4" />
<polyline points="462.90,516.88 471.70,514.52" fill="none" stroke="#f7d300" stroke-width="2.1" />
<polyline points="466.63,521.16 476.77,518.44" fill="none" stroke="#2a2723" stroke-width="4.4" />
<polyline points="467.30,519.58 476.10,517.22" fill="none" stroke="#f7d300" stroke-width="2.1" />
<polyline points="471.03,523.86 481.17,521.14" fill="none" stroke="#2a2723" stroke-width="4.4" />
<polyline points="471.70,522.28 480.50,519.92" fill="none" stroke="#f7d300" stroke-width="2.1" />
<polyline points="475.43,526.56 485.57,523.84" fill="none" stroke="#2a2723" stroke-width="4.4" />
<polyline points="476.10,524.98 484.90,522.62" fill="none" stroke="#f7d300" stroke-width="2.1" />
<polyline points="734.43,436.76 744.57,434.04" fill="none" stroke="#2a2723" stroke-width="4.4" />
<polyline points="735.10,435.18 743.90,432.82" fill="none" stroke="#f7d300" stroke-width="2.1" />
<polyline points="739.43,439.96 749.57,437.24" fill="none" stroke="#2a2723" stroke-width="4.4" />
<polyline points="740.10,438.38 748.90,436.02" fill="none" stroke="#f7d300" stroke-width="2.1" />
<polyline points="744.43,443.16 754.57,440.44" fill="none" stroke="#2a2723" stroke-width="4.4" />
<polyline points="745.10,441.58 753.90,439.22" fill="none" stroke="#f7d300" stroke-width="2.1" />
<polyline points="749.43,446.36 759.57,443.64" fill="none" stroke="#2a2723" stroke-width="4.4" />
<polyline points="750.10,444.78 758.90,442.42" fill="none" stroke="#f7d300" stroke-width="2.1" />
<polyline points="754.43,449.56 764.57,446.84" fill="none" stroke="#2a2723" stroke-width="4.4" />
<polyline points="755.10,447.98 763.90,445.62" fill="none" stroke="#f7d300" stroke-width="2.1" />
<polyline points="759.43,452.76 769.57,450.04" fill="none" stroke="#2a2723" stroke-width="4.4" />
<polyline points="760.10,451.18 768.90,448.82" fill="none" stroke="#f7d300" stroke-width="2.1" />
<polyline points="796.43,482.76 806.57,480.04" fill="none" stroke="#2a2723" stroke-width="4.4" />
<polyline points="797.10,481.18 805.90,478.82" fill="none" stroke="#f7d300" stroke-width="2.1" />
<polyline points="801.93,486.09 812.07,483.37" fill="none" stroke="#2a2723" stroke-width="4.4" />
<polyline points="802.60,484.51 811.40,482.15" fill="none" stroke="#f7d300" stroke-width="2.1" />
<polyline points="807.43,489.43 817.57,486.71" fill="none" stroke="#2a2723" stroke-width="4.4" />
<polyline points="808.10,487.85 816.90,485.49" fill="none" stroke="#f7d300" stroke-width="2.1" />
<polyline points="812.93,492.76 823.07,490.04" fill="none" stroke="#2a2723" stroke-width="4.4" />
<polyline points="813.60,491.18 822.40,488.82" fill="none" stroke="#f7d300" stroke-width="2.1" />
<polyline points="664.43,520.26 674.57,517.54" fill="none" stroke="#2a2723" stroke-width="4.4" />
<polyline points="665.10,518.68 673.90,516.32" fill="none" stroke="#f7d300" stroke-width="2.1" />
<polyline points="673.43,525.76 683.57,523.04" fill="none" stroke="#2a2723" stroke-width="4.4" />
<polyline points="674.10,524.18 682.90,521.82" fill="none" stroke="#f7d300" stroke-width="2.1" />
<polygon points="500.83,557.50 514.17,554.17 525.83,561.67 511.67,565.33" fill="#fbfbfb" stroke="#bdbdbd" stroke-width="0.4" stroke-linejoin="round" />
<polygon points="511.67,565.33 525.83,561.67 540.00,573.33 527.50,577.00" fill="#6fb4ad" />
<polygon points="525.83,561.83 540.00,558.00 575.00,574.00 553.33,580.00 540.00,573.33" fill="#f8d5a3" />
<polygon points="519.17,579.17 540.00,573.33 553.33,580.00 603.33,619.17 585.00,625.00" fill="#f8d5a3" />
<polygon points="553.33,580.00 575.00,573.83 585.00,572.50 635.83,607.50 603.33,619.17" fill="#d2e6f6" />
<polyline points="540.00,573.33 553.33,580.00" fill="none" stroke="#d8b37e" stroke-width="0.5" />
<polyline points="553.33,602.00 572.00,597.17" fill="none" stroke="#d8b37e" stroke-width="0.5" />
<polygon points="585.00,625.50 635.80,609.50 700.00,592.00 704.00,598.50 592.50,632.50" fill="#e4e4e4" />
<polygon points="695.83,608.33 746.67,595.00 772.50,615.00 725.00,628.33" fill="#e9e9e9" />
<polyline points="695.83,608.33 725.00,628.33 772.50,615.00" fill="none" stroke="#47423e" stroke-width="1.2" />
<polygon points="730.83,615.00 740.00,612.50 746.67,617.50 730.83,621.67" fill="#dcdcdc" />
<polyline points="774.67,578.00 767.00,597.50" fill="none" stroke="#dddddd" stroke-width="6" />
<polyline points="774.67,578.00 767.00,597.50" fill="none" stroke="#777" stroke-width="6" stroke-dasharray="0.7 0.9"/>
<polygon points="746.67,600.00 766.67,597.50 771.67,601.67 753.33,605.33" fill="#fafafa" stroke="#999" stroke-width="0.4" stroke-linejoin="round" />
<polyline points="749.17,602.00 738.67,610.33" fill="none" stroke="#dddddd" stroke-width="5" />
<polyline points="749.17,602.00 738.67,610.33" fill="none" stroke="#777" stroke-width="5" stroke-dasharray="0.7 0.9"/>
<polygon points="721.50,588.00 725.70,590.20 725.70,627.20 721.50,625.00" fill="#8e1b24" />
<polygon points="725.70,590.20 731.50,588.00 731.50,625.00 725.70,627.20" fill="#b8434f" />
<polyline points="725.70,590.20 725.70,627.20" fill="none" stroke="#eeb4aa" stroke-width="0.7" />
<polyline points="721.50,590.60 725.70,592.80 731.50,590.60" fill="none" stroke="#fbeaea" stroke-width="0.6" />
<polyline points="727.50,237.50 733.80,258.50" fill="none" stroke="#e9e9e9" stroke-width="7.5" />
<polyline points="727.50,237.50 733.80,258.50" fill="none" stroke="#a5a5a5" stroke-width="7.5" stroke-dasharray="0.7 0.9"/>
<polygon points="729.50,259.50 743.50,261.50 742.50,264.00 728.50,262.30" fill="#fafafa" stroke="#777" stroke-width="0.5" stroke-linejoin="round" />
<polyline points="733.00,262.50 723.00,281.00" fill="none" stroke="#ececec" stroke-width="6.5" />
<polyline points="733.00,262.50 723.00,281.00" fill="none" stroke="#a9a9a9" stroke-width="6.5" stroke-dasharray="0.7 0.9"/>
<polyline points="703.00,291.00 711.00,306.00" fill="none" stroke="#eeeeee" stroke-width="7" />
<polyline points="703.00,291.00 711.00,306.00" fill="none" stroke="#b5b5b5" stroke-width="7" stroke-dasharray="0.7 0.9"/>
<polyline points="725.50,321.00 737.00,334.50" fill="none" stroke="#efefea" stroke-width="5" />
<polyline points="725.50,321.00 737.00,334.50" fill="none" stroke="#b5b5b5" stroke-width="5" stroke-dasharray="0.7 0.9"/>
<polyline points="407.60,322.60 414.10,345.10" fill="none" stroke="#e2e2e2" stroke-width="7" />
<polyline points="407.60,322.60 414.10,345.10" fill="none" stroke="#c4c4c4" stroke-width="7" stroke-dasharray="0.7 0.9"/>
<polyline points="407.60,322.60 409.20,328.20" fill="none" stroke="#b3b3b3" stroke-width="7" />
<polygon points="410.60,346.50 417.60,344.50 438.50,352.00 431.00,353.80" fill="#dedede" />
<polygon points="418.10,344.10 427.10,342.60 434.60,348.10 425.10,347.10" fill="#f2dcc6" />
<polyline points="434.60,352.60 442.70,376.20" fill="none" stroke="#e4e4e4" stroke-width="7.5" />
<polyline points="434.60,352.60 442.70,376.20" fill="none" stroke="#c8c8c8" stroke-width="7.5" stroke-dasharray="0.7 0.9"/>
<polygon points="411.60,322.60 420.10,327.60 413.10,329.10" fill="#fff" />
<polyline points="400.60,324.10 412.10,321.60 420.60,327.60" fill="none" stroke="#47423e" stroke-width="1.1" />
<polyline points="458.00,366.20 500.00,354.10" fill="none" stroke="#cfcfcf" stroke-width="0.4" />
<polyline points="448.00,372.00 452.00,370.80 452.60,372.00 460.00,369.80 460.60,371.00 500.00,360.00" fill="none" stroke="#cfcfcf" stroke-width="0.4" />
<polygon points="399.50,347.00 406.00,349.60 400.00,351.00" fill="#fff" />
<polyline points="386.50,346.20 397.50,343.10 407.10,349.60" fill="none" stroke="#47423e" stroke-width="1.0" />
<text class="lb" x="199.85" y="258.95" font-size="8.9" fill="#231f20" stroke="#231f20" stroke-width="0.2" textLength="142.8" lengthAdjust="spacingAndGlyphs">高速巴士・机场巴士（到关西机场）・</text>
<text class="lb" x="212.82" y="269.95" font-size="8.9" fill="#231f20" stroke="#231f20" stroke-width="0.2" textLength="117.6" lengthAdjust="spacingAndGlyphs">近铁上本町區間巴士・路线巴士</text>
<text class="lb" x="371.46" y="305.70" font-size="8.9" fill="#231f20" stroke="#231f20" stroke-width="0.2" textLength="21.08" lengthAdjust="spacingAndGlyphs">JR 线</text>
<text class="lb" x="344.00" y="360.20" font-size="8.9" fill="#231f20" stroke="#231f20" stroke-width="0.2" textLength="42" lengthAdjust="spacingAndGlyphs">近铁百货店</text>
<text class="lb" x="300.29" y="370.70" font-size="8.9" fill="#231f20" stroke="#231f20" stroke-width="0.2" textLength="130.67" lengthAdjust="spacingAndGlyphs">（阿倍野HARUKAS近铁本店翼馆）</text>
<text class="lb" x="326.81" y="382.45" font-size="8.9" fill="#231f20" stroke="#231f20" stroke-width="0.2" textLength="76.88" lengthAdjust="spacingAndGlyphs">[B2F-B1F/2F-9F/RF]</text>
<text class="lb" x="232.69" y="412.70" font-size="8.9" fill="#231f20" stroke="#231f20" stroke-width="0.2" textLength="58.37" lengthAdjust="spacingAndGlyphs">前往2F JR 线・</text>
<text class="lb" x="229.65" y="423.70" font-size="8.9" fill="#231f20" stroke="#231f20" stroke-width="0.2" textLength="67.2" lengthAdjust="spacingAndGlyphs">阪堺线・百货店内</text>
<text class="lb" x="302.27" y="411.27" font-size="8.4" fill="#231f20" stroke="#231f20" stroke-width="0.18" textLength="23.7" lengthAdjust="spacingAndGlyphs">咖啡屋</text>
<text class="lb" x="115.25" y="350.20" font-size="8.9" fill="#231f20" stroke="#231f20" stroke-width="0.2" textLength="42" lengthAdjust="spacingAndGlyphs">电梯的一侧</text>
<text class="lb" x="33.52" y="411.20" font-size="8.9" fill="#231f20" stroke="#231f20" stroke-width="0.2" textLength="109.2" lengthAdjust="spacingAndGlyphs">地铁（御堂筋线・谷町线）・</text>
<text class="lb" x="54.26" y="421.45" font-size="8.9" fill="#231f20" stroke="#231f20" stroke-width="0.2" textLength="71.48" lengthAdjust="spacingAndGlyphs">JR 线・阪堺线方向</text>
<text class="lb" x="103.19" y="458.70" font-size="8.9" fill="#231f20" stroke="#231f20" stroke-width="0.2" textLength="56.87" lengthAdjust="spacingAndGlyphs">前往塔馆B1F・</text>
<text class="lb" x="116.67" y="469.45" font-size="8.9" fill="#231f20" stroke="#231f20" stroke-width="0.2" textLength="31.67" lengthAdjust="spacingAndGlyphs">翼馆B1F</text>
<text class="lb" x="503.51" y="236.95" font-size="8.9" fill="#231f20" stroke="#231f20" stroke-width="0.2" textLength="113.48" lengthAdjust="spacingAndGlyphs">地铁（御堂筋线）・JR 线方向</text>
<text class="lb" x="549.27" y="293.20" font-size="8.9" fill="#231f20" stroke="#231f20" stroke-width="0.2" textLength="68.22" lengthAdjust="spacingAndGlyphs">前往近铁百货店2F</text>
<text class="lb" x="662.75" y="277.70" font-size="8.9" fill="#fff" stroke="#fff" stroke-width="2.3" stroke-linejoin="round" opacity="0.8" textLength="42" lengthAdjust="spacingAndGlyphs" aria-hidden="true">大阪天王寺</text><text class="lb" x="662.75" y="277.70" font-size="8.9" fill="#231f20" stroke="#231f20" stroke-width="0.2" textLength="42" lengthAdjust="spacingAndGlyphs">大阪天王寺</text>
<text class="lb" x="662.75" y="287.45" font-size="8.9" fill="#fff" stroke="#fff" stroke-width="2.3" stroke-linejoin="round" opacity="0.8" textLength="42" lengthAdjust="spacingAndGlyphs" aria-hidden="true">都城市酒店</text><text class="lb" x="662.75" y="287.45" font-size="8.9" fill="#231f20" stroke="#231f20" stroke-width="0.2" textLength="42" lengthAdjust="spacingAndGlyphs">都城市酒店</text>
<text class="lb" x="482.85" y="325.70" font-size="8.9" fill="#231f20" stroke="#231f20" stroke-width="0.2" textLength="16.8" lengthAdjust="spacingAndGlyphs">面类</text>
<text class="lb" x="542.83" y="357.70" font-size="8.9" fill="#3a2a2a" stroke="#3a2a2a" stroke-width="0.2" textLength="33.6" lengthAdjust="spacingAndGlyphs">下车站台</text>
<text class="lb" x="596.35" y="370.20" font-size="8.9" fill="#231f20" stroke="#231f20" stroke-width="0.2" textLength="16.8" lengthAdjust="spacingAndGlyphs">花店</text>
<text class="lb" x="745.41" y="333.20" font-size="8.9" fill="#231f20" stroke="#231f20" stroke-width="0.2" textLength="86.67" lengthAdjust="spacingAndGlyphs">大阪天王寺 都城市酒店</text>
<text class="lb" x="861.90" y="393.77" font-size="8.4" fill="#231f20" stroke="#231f20" stroke-width="0.18" textLength="23.7" lengthAdjust="spacingAndGlyphs">咖啡屋</text>
<text class="lb" x="783.86" y="428.20" font-size="8.9" fill="#4f4536" textLength="81.77" lengthAdjust="spacingAndGlyphs">[Time's Place阿倍野]</text>
<text class="lb" x="807.95" y="436.95" font-size="8.9" fill="#4f4536" textLength="33.6" lengthAdjust="spacingAndGlyphs">购物商场</text>
<text class="lb" x="999.50" y="374.81" font-size="10.3" fill="#3b3b3b" textLength="117.6" lengthAdjust="spacingAndGlyphs">藤井寺・古市・河内长野・</text>
<text class="lb" x="999.50" y="386.61" font-size="10.3" fill="#3b3b3b" textLength="147" lengthAdjust="spacingAndGlyphs">近铁御所・橿原神宫前・吉野方向</text>
<text class="lb" x="964.20" y="459.70" font-size="8.9" fill="#231f20" stroke="#231f20" stroke-width="0.2" textLength="33.6" lengthAdjust="spacingAndGlyphs">食品超市</text>
<text class="lb" x="885.60" y="481.45" font-size="8.9" fill="#4f4536" textLength="58.8" lengthAdjust="spacingAndGlyphs">阿倍野活动广场</text>
<text class="lb" x="1019.40" y="537.45" font-size="8.9" fill="#231f20" stroke="#231f20" stroke-width="0.2" textLength="25.2" lengthAdjust="spacingAndGlyphs">药品店</text>
<text class="lb" x="307.23" y="471.45" font-size="8.9" fill="#231f20" stroke="#231f20" stroke-width="0.2" textLength="58.8" lengthAdjust="spacingAndGlyphs">车站旅遊服務处</text>
<text class="lb" x="289.62" y="499.45" font-size="8.9" fill="#231f20" stroke="#231f20" stroke-width="0.2" textLength="42" lengthAdjust="spacingAndGlyphs">近铁百货店</text>
<text class="lb" x="245.54" y="511.20" font-size="8.9" fill="#231f20" stroke="#231f20" stroke-width="0.2" textLength="130.67" lengthAdjust="spacingAndGlyphs">（阿倍野HARUKAS近铁本店塔馆）</text>
<text class="lb" x="310.64" y="578.95" font-size="8.9" fill="#231f20" stroke="#231f20" stroke-width="0.2" textLength="48.47" lengthAdjust="spacingAndGlyphs">前往翼馆B2F</text>
<text class="lb" x="552.95" y="466.45" font-size="8.9" fill="#3a2a2a" stroke="#3a2a2a" stroke-width="0.2" textLength="33.6" lengthAdjust="spacingAndGlyphs">下车站台</text>
<text class="lb" x="560.48" y="488.20" font-size="8.9" fill="#231f20" stroke="#231f20" stroke-width="0.2" textLength="16.8" lengthAdjust="spacingAndGlyphs">花店</text>
<text class="lb" x="663.48" y="406.20" font-size="8.9" fill="#231f20" stroke="#231f20" stroke-width="0.2" textLength="16.8" lengthAdjust="spacingAndGlyphs">面包</text>
<text class="lb" x="821.48" y="541.45" font-size="8.9" fill="#231f20" stroke="#231f20" stroke-width="0.2" textLength="16.8" lengthAdjust="spacingAndGlyphs">面类</text>
<text class="lb" x="725.65" y="571.02" font-size="8.4" fill="#231f20" stroke="#231f20" stroke-width="0.18" textLength="23.7" lengthAdjust="spacingAndGlyphs">咖啡屋</text>
<text class="lb" x="668.75" y="688.20" font-size="8.9" fill="#231f20" stroke="#231f20" stroke-width="0.2" textLength="42" lengthAdjust="spacingAndGlyphs">近铁百货店</text>
<text class="lb" x="600.93" y="699.20" font-size="8.9" fill="#231f20" stroke="#231f20" stroke-width="0.2" textLength="179.14" lengthAdjust="spacingAndGlyphs">（阿倍野HARUKAS近铁本店翼馆B2F食品专区）</text>
<text class="lb" x="500.53" y="705.70" font-size="8.9" fill="#231f20" stroke="#231f20" stroke-width="0.2" textLength="48.9" lengthAdjust="spacingAndGlyphs">阿倍野HOOP</text>
<text transform="translate(80.00,445.00) scale(0.680,1)" font-family="Liberation Sans, sans-serif" font-weight="bold" fill="#111" stroke="#111" stroke-width="0.45" font-size="19.0">B1<tspan font-size="12.5">F</tspan></text>
<text transform="translate(491.25,293.75) scale(0.680,1)" font-family="Liberation Sans, sans-serif" font-weight="bold" fill="#111" stroke="#111" stroke-width="0.45" font-size="19.0">1<tspan font-size="12.5">F</tspan></text>
<text transform="translate(635.50,311.75) scale(0.680,1)" font-family="Liberation Sans, sans-serif" font-weight="bold" fill="#111" stroke="#111" stroke-width="0.45" font-size="19.0">B2<tspan font-size="12.5">F</tspan></text>
<text transform="translate(308.75,452.00) scale(0.680,1)" font-family="Liberation Sans, sans-serif" font-weight="bold" fill="#111" stroke="#111" stroke-width="0.45" font-size="19.0">1<tspan font-size="12.5">F</tspan></text>
<text transform="translate(418.00,457.50) scale(0.680,1)" font-family="Liberation Sans, sans-serif" font-weight="bold" fill="#111" stroke="#111" stroke-width="0.45" font-size="19.0">1<tspan font-size="12.5">F</tspan></text>
<text transform="translate(472.50,409.25) scale(0.680,1)" font-family="Liberation Sans, sans-serif" font-weight="bold" fill="#111" stroke="#111" stroke-width="0.45" font-size="19.0">B2<tspan font-size="12.5">F</tspan></text>
<text transform="translate(588.00,498.00) scale(0.680,1)" font-family="Liberation Sans, sans-serif" font-weight="bold" fill="#111" stroke="#111" stroke-width="0.45" font-size="19.0">B2<tspan font-size="12.5">F</tspan></text>
<text transform="translate(525.75,543.00) scale(0.680,1)" font-family="Liberation Sans, sans-serif" font-weight="bold" fill="#111" stroke="#111" stroke-width="0.45" font-size="19.0">1<tspan font-size="12.5">F</tspan></text>
<text transform="translate(472.50,580.50) scale(0.680,1)" font-family="Liberation Sans, sans-serif" font-weight="bold" fill="#111" stroke="#111" stroke-width="0.45" font-size="19.0">1<tspan font-size="12.5">F</tspan></text>
<text transform="translate(662.50,472.00) scale(0.680,1)" font-family="Liberation Sans, sans-serif" font-weight="bold" fill="#111" stroke="#111" stroke-width="0.45" font-size="19.0">B2<tspan font-size="12.5">F</tspan></text>
<text transform="translate(773.75,553.25) scale(0.680,1)" font-family="Liberation Sans, sans-serif" font-weight="bold" fill="#111" stroke="#111" stroke-width="0.45" font-size="19.0">B2<tspan font-size="12.5">F</tspan></text>
<text transform="translate(951.25,492.50) scale(0.680,1)" font-family="Liberation Sans, sans-serif" font-weight="bold" fill="#111" stroke="#111" stroke-width="0.45" font-size="19.0">B2<tspan font-size="12.5">F</tspan></text>
<polygon points="401.25,528.00 444.50,528.00 444.50,530.50 466.25,528.00 444.50,536.50 444.50,542.00 401.25,542.00" fill="#8c1d23" />
<rect x="401.25" y="528.00" width="43.25" height="14.00" fill="none" stroke="#5e1015" stroke-width="0.6" opacity="0.5"/>
<text class="lb" x="404.27" y="538.31" font-size="9.2" fill="#fff" stroke="#fff" stroke-width="0.2" textLength="37.2" lengthAdjust="spacingAndGlyphs">西检票口</text>
<polygon points="606.25,523.00 657.00,523.00 657.00,525.50 668.75,526.25 657.00,531.50 657.00,537.00 606.25,537.00" fill="#8c1d23" />
<rect x="606.25" y="523.00" width="50.75" height="14.00" fill="none" stroke="#5e1015" stroke-width="0.6" opacity="0.5"/>
<text class="lb" x="608.38" y="533.31" font-size="9.2" fill="#fff" stroke="#fff" stroke-width="0.2" textLength="46.5" lengthAdjust="spacingAndGlyphs">中央检票口</text>
<polygon points="830.00,466.00 874.00,466.00 874.00,481.00 830.00,481.00 830.00,479.00 819.00,477.50 830.00,473.00" fill="#8c1d23" />
<rect x="830.00" y="466.00" width="44.00" height="15.00" fill="none" stroke="#5e1015" stroke-width="0.6" opacity="0.5"/>
<text class="lb" x="833.40" y="476.81" font-size="9.2" fill="#fff" stroke="#fff" stroke-width="0.2" textLength="37.2" lengthAdjust="spacingAndGlyphs">东检票口</text>
<rect x="193.75" y="334.50" width="11.75" height="12.50" rx="1.6" fill="#fff" stroke="#8c8c8c" stroke-width="0.7"/>
<rect x="195.93" y="340.55" width="7.4" height="5.2" fill="#1a1a1a"/>
<rect x="196.88" y="342.05" width="1.1" height="3.4" fill="#fff"/>
<circle cx="197.43" cy="341.45" r="0.65" fill="#fff"/>
<rect x="199.07" y="342.05" width="1.1" height="3.4" fill="#fff"/>
<circle cx="199.62" cy="341.45" r="0.65" fill="#fff"/>
<rect x="201.27" y="342.05" width="1.1" height="3.4" fill="#fff"/>
<circle cx="201.82" cy="341.45" r="0.65" fill="#fff"/>
<path d="M196.03 338.95 l1.6 -2 l1.6 2 z M203.22 337.15 l-1.6 2 l-1.6 -2 z" fill="#1a1a1a" />
<polyline points="199.32,335.55 199.32,339.95" fill="none" stroke="#1a1a1a" stroke-width="0.8" />
<rect x="208.75" y="330.75" width="11.75" height="12.50" rx="1.6" fill="#fff" stroke="#8c8c8c" stroke-width="0.7"/>
<rect x="210.93" y="336.80" width="7.4" height="5.2" fill="#1a1a1a"/>
<rect x="211.88" y="338.30" width="1.1" height="3.4" fill="#fff"/>
<circle cx="212.43" cy="337.70" r="0.65" fill="#fff"/>
<rect x="214.07" y="338.30" width="1.1" height="3.4" fill="#fff"/>
<circle cx="214.62" cy="337.70" r="0.65" fill="#fff"/>
<rect x="216.27" y="338.30" width="1.1" height="3.4" fill="#fff"/>
<circle cx="216.82" cy="337.70" r="0.65" fill="#fff"/>
<path d="M211.03 335.20 l1.6 -2 l1.6 2 z M218.22 333.40 l-1.6 2 l-1.6 -2 z" fill="#1a1a1a" />
<polyline points="214.32,331.80 214.32,336.20" fill="none" stroke="#1a1a1a" stroke-width="0.8" />
<rect x="223.25" y="326.50" width="12.25" height="12.50" rx="1.6" fill="#fff" stroke="#8c8c8c" stroke-width="0.7"/>
<rect x="225.68" y="332.55" width="7.4" height="5.2" fill="#1a1a1a"/>
<rect x="226.62" y="334.05" width="1.1" height="3.4" fill="#fff"/>
<circle cx="227.18" cy="333.45" r="0.65" fill="#fff"/>
<rect x="228.82" y="334.05" width="1.1" height="3.4" fill="#fff"/>
<circle cx="229.38" cy="333.45" r="0.65" fill="#fff"/>
<rect x="231.02" y="334.05" width="1.1" height="3.4" fill="#fff"/>
<circle cx="231.57" cy="333.45" r="0.65" fill="#fff"/>
<path d="M225.78 330.95 l1.6 -2 l1.6 2 z M232.97 329.15 l-1.6 2 l-1.6 -2 z" fill="#1a1a1a" />
<polyline points="229.07,327.55 229.07,331.95" fill="none" stroke="#1a1a1a" stroke-width="0.8" />
<rect x="163.75" y="382.50" width="13.25" height="13.00" rx="1.6" fill="#fff" stroke="#8c8c8c" stroke-width="0.7"/>
<rect x="166.68" y="388.80" width="7.4" height="5.2" fill="#1a1a1a"/>
<rect x="167.62" y="390.30" width="1.1" height="3.4" fill="#fff"/>
<circle cx="168.18" cy="389.70" r="0.65" fill="#fff"/>
<rect x="169.82" y="390.30" width="1.1" height="3.4" fill="#fff"/>
<circle cx="170.38" cy="389.70" r="0.65" fill="#fff"/>
<rect x="172.02" y="390.30" width="1.1" height="3.4" fill="#fff"/>
<circle cx="172.57" cy="389.70" r="0.65" fill="#fff"/>
<path d="M166.78 387.20 l1.6 -2 l1.6 2 z M173.97 385.40 l-1.6 2 l-1.6 -2 z" fill="#1a1a1a" />
<polyline points="170.07,383.80 170.07,388.20" fill="none" stroke="#1a1a1a" stroke-width="0.8" />
<rect x="711.25" y="292.00" width="13.75" height="13.00" rx="1.6" fill="#fff" stroke="#8c8c8c" stroke-width="0.7"/>
<rect x="714.42" y="298.30" width="7.4" height="5.2" fill="#1a1a1a"/>
<rect x="715.38" y="299.80" width="1.1" height="3.4" fill="#fff"/>
<circle cx="715.92" cy="299.20" r="0.65" fill="#fff"/>
<rect x="717.58" y="299.80" width="1.1" height="3.4" fill="#fff"/>
<circle cx="718.12" cy="299.20" r="0.65" fill="#fff"/>
<rect x="719.78" y="299.80" width="1.1" height="3.4" fill="#fff"/>
<circle cx="720.33" cy="299.20" r="0.65" fill="#fff"/>
<path d="M714.52 296.70 l1.6 -2 l1.6 2 z M721.73 294.90 l-1.6 2 l-1.6 -2 z" fill="#1a1a1a" />
<polyline points="717.83,293.30 717.83,297.70" fill="none" stroke="#1a1a1a" stroke-width="0.8" />
<rect x="720.00" y="576.25" width="12.50" height="12.50" rx="1.6" fill="#fff" stroke="#8c8c8c" stroke-width="0.7"/>
<rect x="722.55" y="582.30" width="7.4" height="5.2" fill="#1a1a1a"/>
<rect x="723.50" y="583.80" width="1.1" height="3.4" fill="#fff"/>
<circle cx="724.05" cy="583.20" r="0.65" fill="#fff"/>
<rect x="725.70" y="583.80" width="1.1" height="3.4" fill="#fff"/>
<circle cx="726.25" cy="583.20" r="0.65" fill="#fff"/>
<rect x="727.90" y="583.80" width="1.1" height="3.4" fill="#fff"/>
<circle cx="728.45" cy="583.20" r="0.65" fill="#fff"/>
<path d="M722.65 580.70 l1.6 -2 l1.6 2 z M729.85 578.90 l-1.6 2 l-1.6 -2 z" fill="#1a1a1a" />
<polyline points="725.95,577.30 725.95,581.70" fill="none" stroke="#1a1a1a" stroke-width="0.8" />
<rect x="1135.00" y="515.00" width="13.00" height="13.00" rx="1.6" fill="#fff" stroke="#8c8c8c" stroke-width="0.7"/>
<rect x="1137.80" y="521.30" width="7.4" height="5.2" fill="#1a1a1a"/>
<rect x="1138.75" y="522.80" width="1.1" height="3.4" fill="#fff"/>
<circle cx="1139.30" cy="522.20" r="0.65" fill="#fff"/>
<rect x="1140.95" y="522.80" width="1.1" height="3.4" fill="#fff"/>
<circle cx="1141.50" cy="522.20" r="0.65" fill="#fff"/>
<rect x="1143.15" y="522.80" width="1.1" height="3.4" fill="#fff"/>
<circle cx="1143.70" cy="522.20" r="0.65" fill="#fff"/>
<path d="M1137.90 519.70 l1.6 -2 l1.6 2 z M1145.10 517.90 l-1.6 2 l-1.6 -2 z" fill="#1a1a1a" />
<polyline points="1141.20,516.30 1141.20,520.70" fill="none" stroke="#1a1a1a" stroke-width="0.8" />
<rect x="129.50" y="353.25" width="13.00" height="13.00" rx="1.6" fill="#fff" stroke="#8c8c8c" stroke-width="0.7"/>
<rect x="132.20" y="357.85" width="7.6" height="6.6" fill="#b5a283" stroke="#5f4f3a" stroke-width="1.0"/>
<rect x="134.00" y="360.45" width="4" height="2.6" fill="#5f4f3a"/>
<polyline points="132.40,355.55 132.40,357.35" fill="none" stroke="#5f4f3a" stroke-width="1.0" />
<polyline points="132.40,355.85 136.80,355.85" fill="none" stroke="#5f4f3a" stroke-width="1.0" />
<polyline points="133.60,359.45 138.40,359.45" fill="none" stroke="#5f4f3a" stroke-width="0.8" />
<rect x="343.00" y="404.50" width="12.75" height="12.50" rx="1.6" fill="#fff" stroke="#8c8c8c" stroke-width="0.7"/>
<rect x="345.57" y="408.85" width="7.6" height="6.6" fill="#b5a283" stroke="#5f4f3a" stroke-width="1.0"/>
<rect x="347.38" y="411.45" width="4" height="2.6" fill="#5f4f3a"/>
<polyline points="345.77,406.55 345.77,408.35" fill="none" stroke="#5f4f3a" stroke-width="1.0" />
<polyline points="345.77,406.85 350.18,406.85" fill="none" stroke="#5f4f3a" stroke-width="1.0" />
<polyline points="346.98,410.45 351.77,410.45" fill="none" stroke="#5f4f3a" stroke-width="0.8" />
<rect x="615.00" y="179.50" width="13.75" height="13.00" rx="1.6" fill="#fff" stroke="#8c8c8c" stroke-width="0.7"/>
<rect x="618.08" y="184.10" width="7.6" height="6.6" fill="#b5a283" stroke="#5f4f3a" stroke-width="1.0"/>
<rect x="619.88" y="186.70" width="4" height="2.6" fill="#5f4f3a"/>
<polyline points="618.27,181.80 618.27,183.60" fill="none" stroke="#5f4f3a" stroke-width="1.0" />
<polyline points="618.27,182.10 622.67,182.10" fill="none" stroke="#5f4f3a" stroke-width="1.0" />
<polyline points="619.48,185.70 624.27,185.70" fill="none" stroke="#5f4f3a" stroke-width="0.8" />
<rect x="687.50" y="205.50" width="13.25" height="13.25" rx="1.6" fill="#fff" stroke="#8c8c8c" stroke-width="0.7"/>
<rect x="690.33" y="210.22" width="7.6" height="6.6" fill="#b5a283" stroke="#5f4f3a" stroke-width="1.0"/>
<rect x="692.12" y="212.82" width="4" height="2.6" fill="#5f4f3a"/>
<polyline points="690.52,207.93 690.52,209.72" fill="none" stroke="#5f4f3a" stroke-width="1.0" />
<polyline points="690.52,208.22 694.92,208.22" fill="none" stroke="#5f4f3a" stroke-width="1.0" />
<polyline points="691.73,211.82 696.52,211.82" fill="none" stroke="#5f4f3a" stroke-width="0.8" />
<rect x="775.00" y="391.25" width="13.25" height="13.00" rx="1.6" fill="#fff" stroke="#8c8c8c" stroke-width="0.7"/>
<rect x="777.83" y="395.85" width="7.6" height="6.6" fill="#b5a283" stroke="#5f4f3a" stroke-width="1.0"/>
<rect x="779.62" y="398.45" width="4" height="2.6" fill="#5f4f3a"/>
<polyline points="778.02,393.55 778.02,395.35" fill="none" stroke="#5f4f3a" stroke-width="1.0" />
<polyline points="778.02,393.85 782.42,393.85" fill="none" stroke="#5f4f3a" stroke-width="1.0" />
<polyline points="779.23,397.45 784.02,397.45" fill="none" stroke="#5f4f3a" stroke-width="0.8" />
<rect x="746.25" y="649.50" width="13.25" height="13.00" rx="1.6" fill="#fff" stroke="#8c8c8c" stroke-width="0.7"/>
<rect x="749.08" y="654.10" width="7.6" height="6.6" fill="#b5a283" stroke="#5f4f3a" stroke-width="1.0"/>
<rect x="750.88" y="656.70" width="4" height="2.6" fill="#5f4f3a"/>
<polyline points="749.27,651.80 749.27,653.60" fill="none" stroke="#5f4f3a" stroke-width="1.0" />
<polyline points="749.27,652.10 753.67,652.10" fill="none" stroke="#5f4f3a" stroke-width="1.0" />
<polyline points="750.48,655.70 755.27,655.70" fill="none" stroke="#5f4f3a" stroke-width="0.8" />
<rect x="244.50" y="332.50" width="12.50" height="13.00" rx="1.6" fill="#fff" stroke="#8c8c8c" stroke-width="0.7"/>
<path d="M250.85 334.40 q-3.4 4.6 0 9.2 l2.1 -1.0 l-0.7 -2.2 l-1.0 0.4 q-0.9 -1.8 0 -3.6 l1.0 0.4 l0.7 -2.2 z" fill="#6b5a43" />
<rect x="603.75" y="654.50" width="13.25" height="13.00" rx="1.6" fill="#fff" stroke="#8c8c8c" stroke-width="0.7"/>
<path d="M610.48 656.40 q-3.4 4.6 0 9.2 l2.1 -1.0 l-0.7 -2.2 l-1.0 0.4 q-0.9 -1.8 0 -3.6 l1.0 0.4 l0.7 -2.2 z" fill="#6b5a43" />
<rect x="704.50" y="564.50" width="13.00" height="13.00" rx="1.6" fill="#fff" stroke="#8c8c8c" stroke-width="0.7"/>
<path d="M711.10 566.40 q-3.4 4.6 0 9.2 l2.1 -1.0 l-0.7 -2.2 l-1.0 0.4 q-0.9 -1.8 0 -3.6 l1.0 0.4 l0.7 -2.2 z" fill="#6b5a43" />
<rect x="841.75" y="584.50" width="12.75" height="12.50" rx="1.6" fill="#fff" stroke="#8c8c8c" stroke-width="0.7"/>
<path d="M848.23 586.15 q-3.4 4.6 0 9.2 l2.1 -1.0 l-0.7 -2.2 l-1.0 0.4 q-0.9 -1.8 0 -3.6 l1.0 0.4 l0.7 -2.2 z" fill="#6b5a43" />
<rect x="629.25" y="179.50" width="13.75" height="13.00" rx="1.6" fill="#fff" stroke="#8c8c8c" stroke-width="0.7"/>
<text transform="translate(636.12,189.70) scale(0.58,1)" text-anchor="middle" font-family="Liberation Sans, sans-serif" font-weight="bold" font-size="10.4" fill="#111" stroke="#111" stroke-width="0.35">ATM</text>
<rect x="718.25" y="395.00" width="13.75" height="12.50" rx="1.6" fill="#fff" stroke="#8c8c8c" stroke-width="0.7"/>
<text transform="translate(725.12,404.95) scale(0.58,1)" text-anchor="middle" font-family="Liberation Sans, sans-serif" font-weight="bold" font-size="10.4" fill="#111" stroke="#111" stroke-width="0.35">ATM</text>
<rect x="539.50" y="579.50" width="12.50" height="13.00" rx="1.6" fill="#fff" stroke="#8c8c8c" stroke-width="0.7"/>
<text transform="translate(545.75,589.70) scale(0.58,1)" text-anchor="middle" font-family="Liberation Sans, sans-serif" font-weight="bold" font-size="10.4" fill="#111" stroke="#111" stroke-width="0.35">ATM</text>
<rect x="702.50" y="550.00" width="13.00" height="12.50" rx="1.6" fill="#fff" stroke="#8c8c8c" stroke-width="0.7"/>
<text transform="translate(709.00,559.95) scale(0.58,1)" text-anchor="middle" font-family="Liberation Sans, sans-serif" font-weight="bold" font-size="10.4" fill="#111" stroke="#111" stroke-width="0.35">ATM</text>
<rect x="395.75" y="453.00" width="13.00" height="12.75" rx="1.6" fill="#fff" stroke="#8c8c8c" stroke-width="0.7"/>
<text x="402.25" y="463.77" text-anchor="middle" font-family="Liberation Sans, sans-serif" font-weight="bold" font-size="12.5" fill="#111" stroke="#111" stroke-width="0.35">¥</text>
<rect x="495.50" y="530.50" width="13.25" height="12.50" rx="1.6" fill="#fff" stroke="#8c8c8c" stroke-width="0.7"/>
<text x="502.12" y="541.15" text-anchor="middle" font-family="Liberation Sans, sans-serif" font-weight="bold" font-size="12.5" fill="#111" stroke="#111" stroke-width="0.35">¥</text>
<rect x="632.50" y="471.25" width="13.75" height="12.50" rx="1.6" fill="#fff" stroke="#8c8c8c" stroke-width="0.7"/>
<text x="639.38" y="481.90" text-anchor="middle" font-family="Liberation Sans, sans-serif" font-weight="bold" font-size="12.5" fill="#111" stroke="#111" stroke-width="0.35">¥</text>
<rect x="781.25" y="470.50" width="13.75" height="13.25" rx="1.6" fill="#fff" stroke="#8c8c8c" stroke-width="0.7"/>
<text x="788.12" y="481.52" text-anchor="middle" font-family="Liberation Sans, sans-serif" font-weight="bold" font-size="12.5" fill="#111" stroke="#111" stroke-width="0.35">¥</text>
<rect x="738.75" y="364.25" width="13.25" height="12.75" rx="1.6" fill="#fff" stroke="#8c8c8c" stroke-width="0.7"/>
<rect x="743.17" y="368.02" width="6" height="6.4" fill="none" stroke="#1f5fb0" stroke-width="1"/>
<path d="M744.58 368.02 q1.6 -3 3.2 0" fill="none" stroke="#1f5fb0" stroke-width="0.8" />
<rect x="740.98" y="370.02" width="3.6" height="4.6" fill="#1f5fb0"/>
<rect x="544.50" y="558.75" width="13.00" height="12.50" rx="1.6" fill="#fff" stroke="#8c8c8c" stroke-width="0.7"/>
<rect x="548.80" y="562.40" width="6" height="6.4" fill="none" stroke="#1f5fb0" stroke-width="1"/>
<path d="M550.20 562.40 q1.6 -3 3.2 0" fill="none" stroke="#1f5fb0" stroke-width="0.8" />
<rect x="546.60" y="564.40" width="3.6" height="4.6" fill="#1f5fb0"/>
<rect x="725.00" y="544.50" width="12.50" height="13.00" rx="1.6" fill="#fff" stroke="#8c8c8c" stroke-width="0.7"/>
<rect x="729.05" y="548.40" width="6" height="6.4" fill="none" stroke="#1f5fb0" stroke-width="1"/>
<path d="M730.45 548.40 q1.6 -3 3.2 0" fill="none" stroke="#1f5fb0" stroke-width="0.8" />
<rect x="726.85" y="550.40" width="3.6" height="4.6" fill="#1f5fb0"/>
<rect x="345.50" y="430.00" width="11.50" height="12.00" rx="1.6" fill="#fff" stroke="#8c8c8c" stroke-width="0.7"/>
<circle cx="351.25" cy="436.00" r="4.6" fill="#7fbcb5" stroke="#14201f" stroke-width="1.4"/>
<path d="M347.95 437.70 l2.8 0 l3.2 -3.8" fill="none" stroke="#0e1717" stroke-width="1.7" />
<path d="M348.45 435.50 l2.6 0" fill="none" stroke="#0e1717" stroke-width="1.1" />
<rect x="589.50" y="654.50" width="13.50" height="13.00" rx="1.6" fill="#fff" stroke="#8c8c8c" stroke-width="0.7"/>
<circle cx="596.25" cy="661.00" r="4.6" fill="#7fbcb5" stroke="#14201f" stroke-width="1.4"/>
<path d="M592.95 662.70 l2.8 0 l3.2 -3.8" fill="none" stroke="#0e1717" stroke-width="1.7" />
<path d="M593.45 660.50 l2.6 0" fill="none" stroke="#0e1717" stroke-width="1.1" />
<rect x="821.25" y="614.50" width="13.25" height="13.00" rx="1.6" fill="#fff" stroke="#8c8c8c" stroke-width="0.7"/>
<circle cx="827.88" cy="621.00" r="4.6" fill="#7fbcb5" stroke="#14201f" stroke-width="1.4"/>
<path d="M824.58 622.70 l2.8 0 l3.2 -3.8" fill="none" stroke="#0e1717" stroke-width="1.7" />
<path d="M825.08 620.50 l2.6 0" fill="none" stroke="#0e1717" stroke-width="1.1" />
<rect x="906.75" y="493.75" width="12.75" height="12.50" rx="1.6" fill="#fff" stroke="#8c8c8c" stroke-width="0.7"/>
<circle cx="913.12" cy="500.00" r="4.6" fill="#7fbcb5" stroke="#14201f" stroke-width="1.4"/>
<path d="M909.83 501.70 l2.8 0 l3.2 -3.8" fill="none" stroke="#0e1717" stroke-width="1.7" />
<path d="M910.33 499.50 l2.6 0" fill="none" stroke="#0e1717" stroke-width="1.1" />
<rect x="906.75" y="510.75" width="12.75" height="12.50" rx="1.6" fill="#fff" stroke="#8c8c8c" stroke-width="0.7"/>
<circle cx="913.12" cy="517.00" r="4.3" fill="#fff" stroke="#e8862a" stroke-width="1.3" stroke-dasharray="1.1 0.9"/>
<path d="M910.33 518.80 l2.4 -0.6 l3.4 -3 l-1.2 3 l-1.8 1.6 l-3 0.6 z" fill="#2a4a9a" />
<rect x="571.75" y="590.00" width="12.50" height="13.00" rx="1.6" fill="#fff" stroke="#8c8c8c" stroke-width="0.7"/>
<circle cx="575.20" cy="592.90" r="1.1" fill="#d8261c"/>
<path d="M575.20 594.10 l-2 5 l1.2 0 l0 3 l1.6 0 l0 -3 l1.2 0 z" fill="#d8261c" />
<circle cx="580.80" cy="592.90" r="1.1" fill="#1b63b7"/>
<rect x="579.30" y="594.10" width="3" height="8" fill="#1b63b7"/>
<polyline points="578.00,591.90 578.00,601.90" fill="none" stroke="#333" stroke-width="0.5" />
<rect x="847.00" y="567.00" width="13.50" height="12.50" rx="1.6" fill="#fff" stroke="#8c8c8c" stroke-width="0.7"/>
<circle cx="850.95" cy="569.65" r="1.1" fill="#d8261c"/>
<path d="M850.95 570.85 l-2 5 l1.2 0 l0 3 l1.6 0 l0 -3 l1.2 0 z" fill="#d8261c" />
<circle cx="856.55" cy="569.65" r="1.1" fill="#1b63b7"/>
<rect x="855.05" y="570.85" width="3" height="8" fill="#1b63b7"/>
<polyline points="853.75,568.65 853.75,578.65" fill="none" stroke="#333" stroke-width="0.5" />
<rect x="585.75" y="590.00" width="34.25" height="13.00" rx="1.6" fill="#fff" stroke="#8c8c8c" stroke-width="0.7"/>
<circle cx="591.05" cy="592.70" r="1" fill="#5a4a38"/>
<path d="M591.05 593.90 l0 4 l3.4 0 l1.6 3" fill="none" stroke="#5a4a38" stroke-width="1.1" />
<circle cx="591.45" cy="598.70" r="2.7" fill="none" stroke="#5a4a38" stroke-width="0.9"/>
<circle cx="602.75" cy="592.70" r="1.2" fill="#5a4a38"/>
<rect x="600.45" y="594.30" width="4.6" height="7" rx="0.8" fill="#5a4a38"/>
<circle cx="613.25" cy="593.30" r="1.6" fill="#5a4a38"/>
<ellipse cx="613.25" cy="598.10" rx="3.3" ry="2.8" fill="#5a4a38"/>
<rect x="611.75" y="597.50" width="3" height="1" fill="#fff"/>
<rect x="277.50" y="331.25" width="13.00" height="13.25" rx="1.6" fill="#fff" stroke="#8c8c8c" stroke-width="0.7"/>
<rect x="279.20" y="335.27" width="9.6" height="5" rx="0.8" fill="#6b5a43"/>
<rect x="280.00" y="336.18" width="8" height="1.4" fill="#fff"/>
<polyline points="282.00,336.18 282.00,337.57" fill="none" stroke="#6b5a43" stroke-width="0.5" />
<polyline points="284.00,336.18 284.00,337.57" fill="none" stroke="#6b5a43" stroke-width="0.5" />
<polyline points="286.00,336.18 286.00,337.57" fill="none" stroke="#6b5a43" stroke-width="0.5" />
<circle cx="281.20" cy="340.68" r="0.9" fill="#6b5a43"/><circle cx="286.80" cy="340.68" r="0.9" fill="#6b5a43"/>
<rect x="353.75" y="311.25" width="13.75" height="13.25" rx="1.6" fill="#fff" stroke="#8c8c8c" stroke-width="0.7"/>
<text transform="translate(360.62,315.27) scale(0.8,1)" text-anchor="middle" font-family="Liberation Sans, sans-serif" font-weight="bold" font-size="3.6" fill="#6b5a43">TAXI</text>
<path d="M356.62 319.07 l1.2 -2.6 l5.6 0 l1.2 2.6 l0 3 l-8 0 z" fill="#6b5a43" />
<rect x="358.23" y="317.18" width="4.8" height="1.4" fill="#fff"/>
<rect x="332.50" y="388.00" width="12.00" height="12.00" rx="1.6" fill="#fff" stroke="#8c8c8c" stroke-width="0.7"/>
<path d="M334.90 390.20 l8.2 0 l0 3.6 l-5 0 l-3.8 3.4 z" fill="#111" />
<rect x="380.75" y="444.50" width="13.75" height="13.00" rx="1.6" fill="#fff" stroke="#8c8c8c" stroke-width="0.7"/>
<path d="M387.23 449.20 c-1.6 -3.6 -6.4 -1.6 -4.4 2 c1 1.8 3 3 4.4 4.2 c1.4 -1.2 3.4 -2.4 4.4 -4.2 c2 -3.6 -2.8 -5.6 -4.4 -2 z" fill="#e0261f" />
<path d="M388.43 450.00 l3.4 -3.4 l-1 2 l1.8 -0.4 z" fill="#f5c400" />
<rect x="818.75" y="554.50" width="13.25" height="12.50" rx="1.6" fill="#fff" stroke="#8c8c8c" stroke-width="0.7"/>
<rect x="820.77" y="562.75" width="8.8" height="1.7" fill="#5d4a36"/>
<path d="M821.77 561.35 q2.5 -3.6 6.8 -3.4" fill="none" stroke="#5d4a36" stroke-width="0.9" />
<path d="M823.58 560.15 q2 -4.4 5.6 -4.2" fill="none" stroke="#5d4a36" stroke-width="0.7" />
<circle cx="668.75" cy="372.75" r="5.4" fill="#3e3a39"/>
<text x="668.75" y="375.35" text-anchor="middle" font-family="Liberation Sans, sans-serif" font-weight="bold" font-size="7.4" fill="#fff">1</text>
<circle cx="686.25" cy="385.25" r="5.4" fill="#3e3a39"/>
<text x="686.25" y="387.85" text-anchor="middle" font-family="Liberation Sans, sans-serif" font-weight="bold" font-size="7.4" fill="#fff">2</text>
<circle cx="780.00" cy="454.00" r="5.4" fill="#3e3a39"/>
<text x="780.00" y="456.60" text-anchor="middle" font-family="Liberation Sans, sans-serif" font-weight="bold" font-size="7.4" fill="#fff">3</text>
<circle cx="797.50" cy="467.00" r="5.4" fill="#3e3a39"/>
<text x="797.50" y="469.60" text-anchor="middle" font-family="Liberation Sans, sans-serif" font-weight="bold" font-size="7.4" fill="#fff">4</text>
<circle cx="836.25" cy="495.00" r="5.4" fill="#3e3a39"/>
<text x="836.25" y="497.60" text-anchor="middle" font-family="Liberation Sans, sans-serif" font-weight="bold" font-size="7.4" fill="#fff">5</text>
<circle cx="891.70" cy="535.80" r="5.4" fill="#3e3a39"/>
<text x="891.70" y="538.40" text-anchor="middle" font-family="Liberation Sans, sans-serif" font-weight="bold" font-size="7.4" fill="#fff">6</text>
<polygon points="378.25,309.50 384.04,318.03 383.28,314.31 391.79,319.84 393.21,317.66 384.70,312.13 388.40,311.32" fill="#8c1d23" />
<polygon points="262.50,356.75 268.23,365.32 267.49,361.60 274.28,366.08 275.72,363.92 268.92,359.43 272.63,358.64" fill="#8c1d23" />
<polygon points="565.50,241.25 571.36,249.73 570.57,246.02 579.30,251.60 580.70,249.40 571.97,243.83 575.66,242.99" fill="#8c1d23" />
<polygon points="97.50,428.00 106.18,433.56 104.02,430.45 116.03,432.53 116.47,429.97 104.46,427.89 107.54,425.68" fill="#8c1d23" />
<polygon points="524.00,692.50 517.51,684.49 518.58,688.12 510.61,683.85 509.39,686.15 517.36,690.42 513.74,691.54" fill="#8c1d23" />
<polygon points="969.00,374.25 991.25,379.25 989.75,389.75 985.00,386.00 974.50,388.50 964.25,381.50 973.50,378.75" fill="#4d483d" />
<polyline points="399.50,490.00 477.00,548.00" fill="none" stroke="#2f9a44" stroke-width="0.8" stroke-dasharray="2 1.5"/>
<polyline points="433.00,516.00 446.00,512.50 474.00,505.00" fill="none" stroke="#2f9a44" stroke-width="0.8" stroke-dasharray="2 1.5"/>
<polygon points="398.00,489.00 402.60,490.40 400.40,492.60" fill="#2f9a44" />
<polygon points="478.60,549.20 474.00,547.80 476.20,545.60" fill="#2f9a44" />
<polygon points="478.50,503.80 474.20,503.40 475.20,506.60" fill="#2f9a44" />
<polyline points="137.00,366.25 155.00,433.75" fill="none" stroke="#6a6a6a" stroke-width="0.42" />
<circle cx="155.00" cy="433.75" r="0.7" fill="#333"/>
<polyline points="250.00,345.50 242.50,373.00" fill="none" stroke="#6a6a6a" stroke-width="0.42" />
<circle cx="242.50" cy="373.00" r="0.7" fill="#333"/>
<polyline points="271.25,272.50 282.50,331.25" fill="none" stroke="#6a6a6a" stroke-width="0.42" />
<polyline points="265.00,405.00 279.50,381.75" fill="none" stroke="#6a6a6a" stroke-width="0.42" />
<circle cx="279.50" cy="381.75" r="0.7" fill="#333"/>
<polyline points="643.00,193.75 606.25,193.75 670.00,301.25" fill="none" stroke="#6a6a6a" stroke-width="0.42" />
<circle cx="670.00" cy="301.25" r="0.7" fill="#333"/>
<polyline points="696.70,219.50 709.20,284.20" fill="none" stroke="#6a6a6a" stroke-width="0.42" />
<circle cx="709.20" cy="284.20" r="0.7" fill="#333"/>
<polyline points="583.00,296.90 585.60,308.10" fill="none" stroke="#6a6a6a" stroke-width="0.42" />
<circle cx="585.60" cy="308.10" r="0.7" fill="#333"/>
<polyline points="480.00,324.20 426.70,343.70" fill="none" stroke="#6a6a6a" stroke-width="0.42" />
<polyline points="718.25,402.00 708.50,409.30" fill="none" stroke="#6a6a6a" stroke-width="0.42" />
<polygon points="707.00,410.40 710.40,409.20 709.20,407.40" fill="#333" />
<polyline points="307.00,472.30 372.50,472.30 383.00,463.00" fill="none" stroke="#6a6a6a" stroke-width="0.42" />
<circle cx="383.00" cy="463.00" r="0.7" fill="#333"/>
<polyline points="346.25,570.00 372.50,525.00" fill="none" stroke="#6a6a6a" stroke-width="0.42" />
<polyline points="589.50,668.00 622.00,668.00 636.25,607.50" fill="none" stroke="#6a6a6a" stroke-width="0.42" />
<circle cx="636.25" cy="607.50" r="0.7" fill="#333"/>
<polyline points="690.00,675.00 670.00,575.00" fill="none" stroke="#6a6a6a" stroke-width="0.42" />
<circle cx="670.00" cy="575.00" r="0.7" fill="#333"/>
<polyline points="830.00,614.50 840.00,572.50" fill="none" stroke="#6a6a6a" stroke-width="0.42" />
<circle cx="840.00" cy="572.50" r="0.7" fill="#333"/>
<polyline points="753.75,649.50 758.75,607.50" fill="none" stroke="#6a6a6a" stroke-width="0.42" />
<circle cx="758.75" cy="607.50" r="0.7" fill="#333"/>
</svg></body></html>
